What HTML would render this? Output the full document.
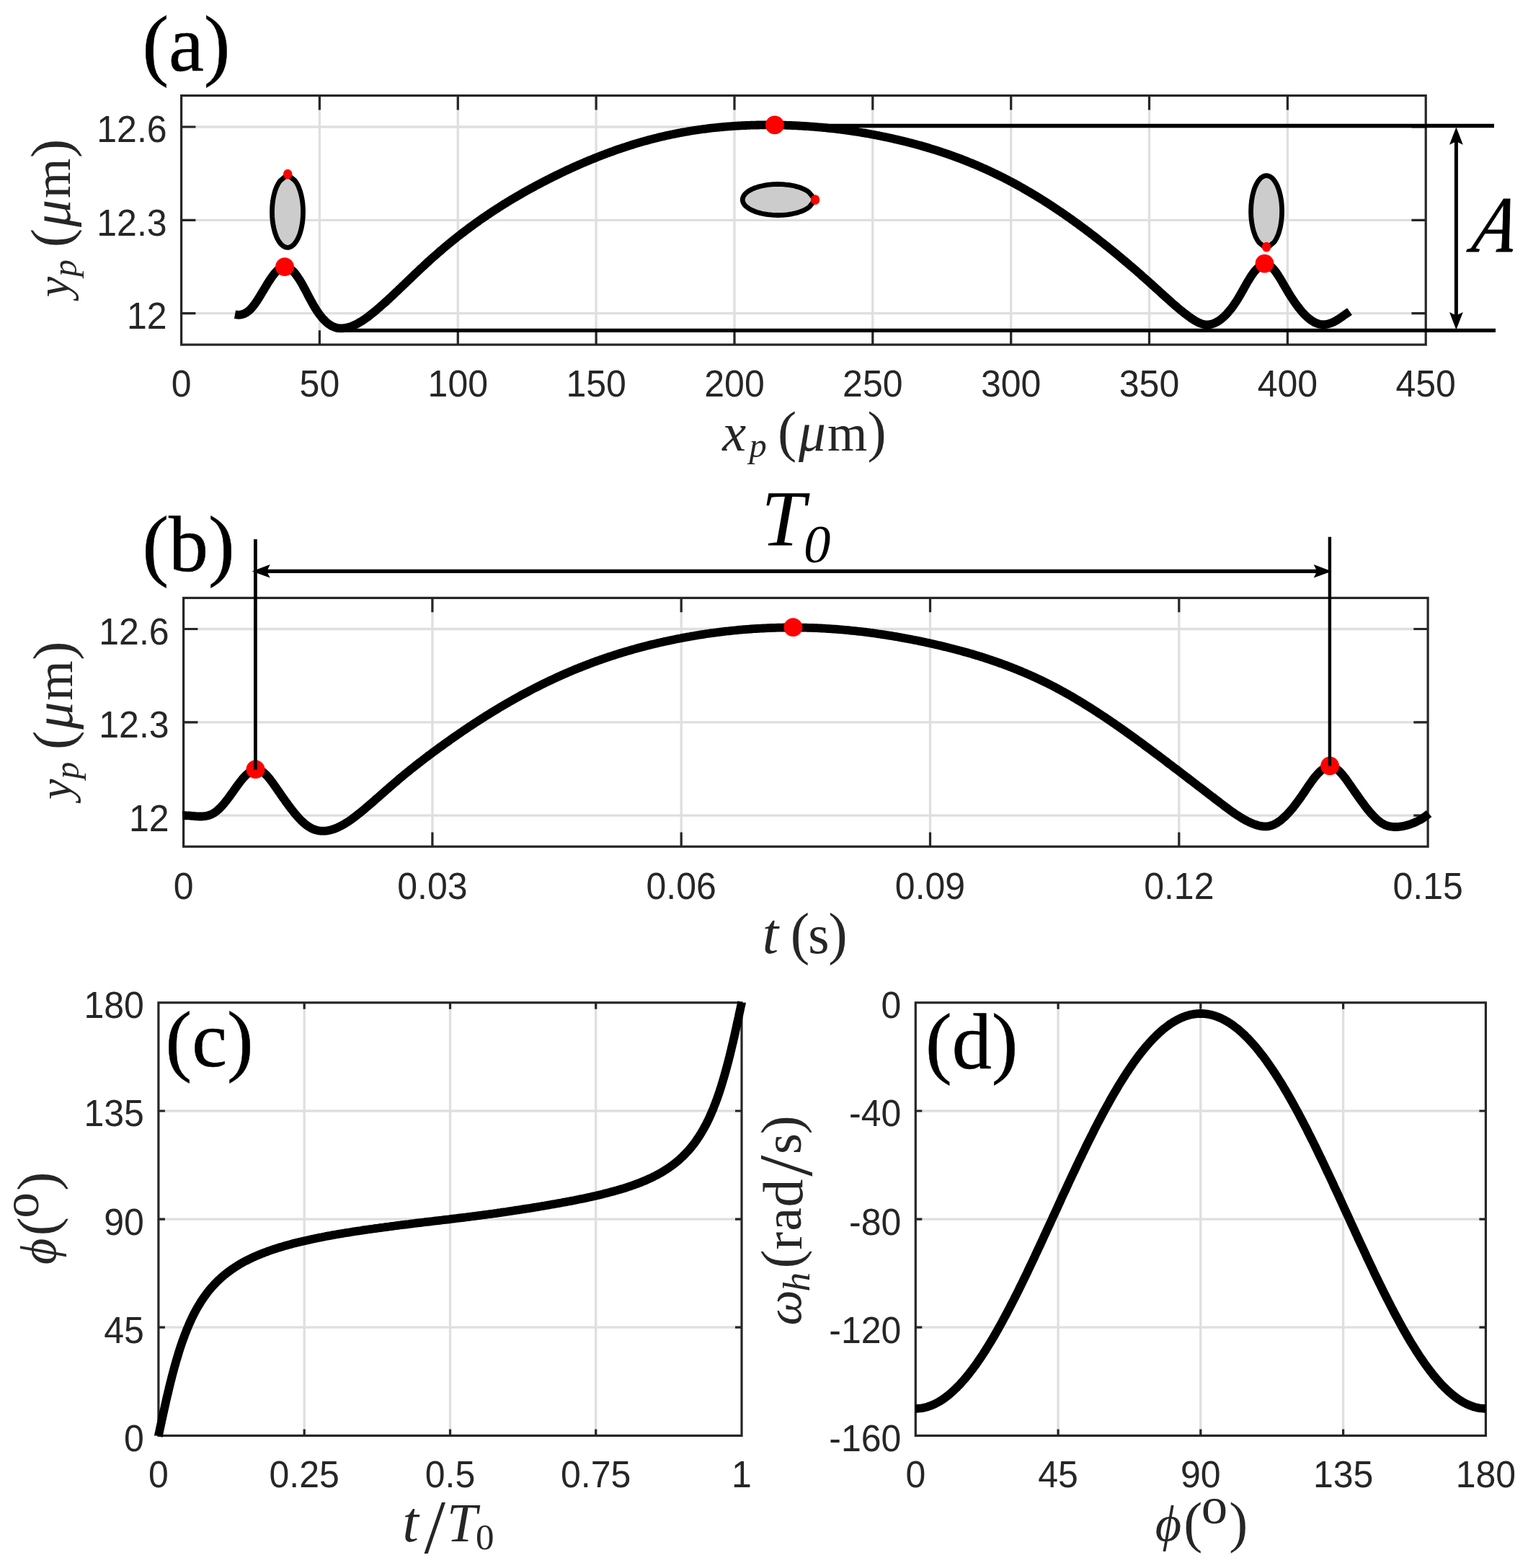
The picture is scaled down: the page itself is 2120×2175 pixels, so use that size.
<!DOCTYPE html>
<html lang="en"><head><meta charset="utf-8"><title>Particle trajectory figure</title>
<style>
html,body{margin:0;padding:0;background:#fff;}
body{width:2120px;height:2175px;overflow:hidden;}
svg{display:block;}
text{white-space:pre;}
</style></head>
<body>
<svg width="2120" height="2175" viewBox="0 0 2120 2175">
<rect x="0" y="0" width="2120" height="2175" fill="#fff"/>
<line x1="443.4" y1="132.6" x2="443.4" y2="478.1" stroke="#dfdfdf" stroke-width="3.3"/>
<line x1="635.3" y1="132.6" x2="635.3" y2="478.1" stroke="#dfdfdf" stroke-width="3.3"/>
<line x1="827.1" y1="132.6" x2="827.1" y2="478.1" stroke="#dfdfdf" stroke-width="3.3"/>
<line x1="1019.0" y1="132.6" x2="1019.0" y2="478.1" stroke="#dfdfdf" stroke-width="3.3"/>
<line x1="1210.8" y1="132.6" x2="1210.8" y2="478.1" stroke="#dfdfdf" stroke-width="3.3"/>
<line x1="1402.7" y1="132.6" x2="1402.7" y2="478.1" stroke="#dfdfdf" stroke-width="3.3"/>
<line x1="1594.5" y1="132.6" x2="1594.5" y2="478.1" stroke="#dfdfdf" stroke-width="3.3"/>
<line x1="1786.4" y1="132.6" x2="1786.4" y2="478.1" stroke="#dfdfdf" stroke-width="3.3"/>
<line x1="251.6" y1="176.0" x2="1978.2" y2="176.0" stroke="#dfdfdf" stroke-width="3.3"/>
<line x1="251.6" y1="305.3" x2="1978.2" y2="305.3" stroke="#dfdfdf" stroke-width="3.3"/>
<line x1="251.6" y1="434.6" x2="1978.2" y2="434.6" stroke="#dfdfdf" stroke-width="3.3"/>
<line x1="599.9" y1="829.4" x2="599.9" y2="1174.3" stroke="#dfdfdf" stroke-width="3.3"/>
<line x1="945.2" y1="829.4" x2="945.2" y2="1174.3" stroke="#dfdfdf" stroke-width="3.3"/>
<line x1="1290.5" y1="829.4" x2="1290.5" y2="1174.3" stroke="#dfdfdf" stroke-width="3.3"/>
<line x1="1635.8" y1="829.4" x2="1635.8" y2="1174.3" stroke="#dfdfdf" stroke-width="3.3"/>
<line x1="254.6" y1="872.5" x2="1981.1" y2="872.5" stroke="#dfdfdf" stroke-width="3.3"/>
<line x1="254.6" y1="1001.8" x2="1981.1" y2="1001.8" stroke="#dfdfdf" stroke-width="3.3"/>
<line x1="254.6" y1="1131.1" x2="1981.1" y2="1131.1" stroke="#dfdfdf" stroke-width="3.3"/>
<line x1="422.2" y1="1390.8" x2="422.2" y2="1991.4" stroke="#dfdfdf" stroke-width="3.3"/>
<line x1="624.5" y1="1390.8" x2="624.5" y2="1991.4" stroke="#dfdfdf" stroke-width="3.3"/>
<line x1="826.7" y1="1390.8" x2="826.7" y2="1991.4" stroke="#dfdfdf" stroke-width="3.3"/>
<line x1="219.9" y1="1541.0" x2="1029.0" y2="1541.0" stroke="#dfdfdf" stroke-width="3.3"/>
<line x1="219.9" y1="1691.1" x2="1029.0" y2="1691.1" stroke="#dfdfdf" stroke-width="3.3"/>
<line x1="219.9" y1="1841.2" x2="1029.0" y2="1841.2" stroke="#dfdfdf" stroke-width="3.3"/>
<line x1="1468.1" y1="1390.8" x2="1468.1" y2="1991.4" stroke="#dfdfdf" stroke-width="3.3"/>
<line x1="1665.8" y1="1390.8" x2="1665.8" y2="1991.4" stroke="#dfdfdf" stroke-width="3.3"/>
<line x1="1863.6" y1="1390.8" x2="1863.6" y2="1991.4" stroke="#dfdfdf" stroke-width="3.3"/>
<line x1="1270.3" y1="1541.0" x2="2061.4" y2="1541.0" stroke="#dfdfdf" stroke-width="3.3"/>
<line x1="1270.3" y1="1691.1" x2="2061.4" y2="1691.1" stroke="#dfdfdf" stroke-width="3.3"/>
<line x1="1270.3" y1="1841.2" x2="2061.4" y2="1841.2" stroke="#dfdfdf" stroke-width="3.3"/>
<path d="M443.4,478.1 v-19.8 M443.4,132.6 v19.8 M635.3,478.1 v-19.8 M635.3,132.6 v19.8 M827.1,478.1 v-19.8 M827.1,132.6 v19.8 M1019.0,478.1 v-19.8 M1019.0,132.6 v19.8 M1210.8,478.1 v-19.8 M1210.8,132.6 v19.8 M1402.7,478.1 v-19.8 M1402.7,132.6 v19.8 M1594.5,478.1 v-19.8 M1594.5,132.6 v19.8 M1786.4,478.1 v-19.8 M1786.4,132.6 v19.8 M251.6,176.0 h19.8 M1978.2,176.0 h-19.8 M251.6,305.3 h19.8 M1978.2,305.3 h-19.8 M251.6,434.6 h19.8 M1978.2,434.6 h-19.8" stroke="#262626" stroke-width="3.2" fill="none"/>
<rect x="251.6" y="132.6" width="1726.6" height="345.5" fill="none" stroke="#262626" stroke-width="3.2"/>
<path d="M599.9,1174.3 v-19.8 M599.9,829.4 v19.8 M945.2,1174.3 v-19.8 M945.2,829.4 v19.8 M1290.5,1174.3 v-19.8 M1290.5,829.4 v19.8 M1635.8,1174.3 v-19.8 M1635.8,829.4 v19.8 M254.6,872.5 h19.8 M1981.1,872.5 h-19.8 M254.6,1001.8 h19.8 M1981.1,1001.8 h-19.8 M254.6,1131.1 h19.8 M1981.1,1131.1 h-19.8" stroke="#262626" stroke-width="3.2" fill="none"/>
<rect x="254.6" y="829.4" width="1726.5" height="344.9" fill="none" stroke="#262626" stroke-width="3.2"/>
<path d="M422.2,1991.4 v-9 M422.2,1390.8 v9 M624.5,1991.4 v-9 M624.5,1390.8 v9 M826.7,1991.4 v-9 M826.7,1390.8 v9 M219.9,1541.0 h9 M1029.0,1541.0 h-9 M219.9,1691.1 h9 M1029.0,1691.1 h-9 M219.9,1841.2 h9 M1029.0,1841.2 h-9" stroke="#262626" stroke-width="3.2" fill="none"/>
<rect x="219.9" y="1390.8" width="809.1" height="600.6" fill="none" stroke="#262626" stroke-width="3.2"/>
<path d="M1468.1,1991.4 v-9 M1468.1,1390.8 v9 M1665.8,1991.4 v-9 M1665.8,1390.8 v9 M1863.6,1991.4 v-9 M1863.6,1390.8 v9 M1270.3,1541.0 h9 M2061.4,1541.0 h-9 M1270.3,1691.1 h9 M2061.4,1691.1 h-9 M1270.3,1841.2 h9 M2061.4,1841.2 h-9" stroke="#262626" stroke-width="3.2" fill="none"/>
<rect x="1270.3" y="1390.8" width="791.1" height="600.6" fill="none" stroke="#262626" stroke-width="3.2"/>
<path d="M326.0,436.2 L327.7,436.5 L329.4,436.7 L331.2,436.8 L332.9,436.7 L334.6,436.4 L336.3,436.0 L338.0,435.4 L339.8,434.7 L341.5,433.7 L343.2,432.6 L344.9,431.3 L346.6,429.8 L348.4,428.0 L350.1,426.1 L351.8,424.0 L353.5,421.7 L355.2,419.2 L357.0,416.7 L358.7,414.0 L360.4,411.2 L362.1,408.4 L363.8,405.5 L365.6,402.6 L367.3,399.8 L369.0,396.9 L370.7,394.1 L372.4,391.3 L374.2,388.7 L375.9,386.1 L377.6,383.7 L379.3,381.4 L381.0,379.2 L382.8,377.3 L384.5,375.5 L386.2,374.0 L387.9,372.7 L389.6,371.6 L391.4,370.8 L393.1,370.4 L394.8,370.2 L396.5,370.3 L398.3,370.7 L400.0,371.4 L401.7,372.3 L403.4,373.4 L405.1,374.9 L406.9,376.5 L408.6,378.4 L410.3,380.4 L412.0,382.7 L413.7,385.2 L415.5,387.9 L417.2,390.7 L418.9,393.7 L420.6,396.7 L422.3,399.9 L424.1,403.1 L425.8,406.4 L427.5,409.7 L429.2,412.9 L430.9,416.1 L432.7,419.3 L434.4,422.4 L436.1,425.3 L437.8,428.1 L439.5,430.8 L441.3,433.4 L443.0,435.8 L444.7,438.0 L446.4,440.2 L448.1,442.2 L449.9,444.0 L451.6,445.7 L453.3,447.3 L455.0,448.7 L456.7,449.9 L458.5,451.1 L460.2,452.1 L461.9,452.9 L463.6,453.6 L465.3,454.2 L467.1,454.7 L468.8,455.0 L470.5,455.3 L472.2,455.4 L473.9,455.4 L475.7,455.4 L477.4,455.2 L479.1,455.0 L480.8,454.6 L482.5,454.2 L484.3,453.8 L486.0,453.2 L487.7,452.6 L489.4,452.0 L491.1,451.2 L492.9,450.4 L494.6,449.6 L496.3,448.7 L498.0,447.7 L499.7,446.7 L501.5,445.7 L503.2,444.6 L504.9,443.4 L506.6,442.2 L508.3,441.0 L510.1,439.8 L511.8,438.5 L513.5,437.1 L515.2,435.8 L516.9,434.4 L518.7,433.0 L520.4,431.6 L522.1,430.2 L523.8,428.7 L525.5,427.2 L527.3,425.7 L529.0,424.2 L530.7,422.7 L532.4,421.2 L534.1,419.6 L535.9,418.1 L537.6,416.5 L539.3,414.9 L541.0,413.3 L542.8,411.7 L544.5,410.1 L546.2,408.5 L547.9,406.9 L549.6,405.2 L551.4,403.6 L553.1,401.9 L554.8,400.3 L556.5,398.7 L558.2,397.0 L560.0,395.4 L561.7,393.7 L563.4,392.1 L565.1,390.4 L566.8,388.8 L568.6,387.1 L570.3,385.5 L572.0,383.8 L573.7,382.2 L575.4,380.5 L577.2,378.9 L578.9,377.3 L580.6,375.7 L582.3,374.0 L584.0,372.4 L585.8,370.8 L587.5,369.2 L589.2,367.6 L590.9,366.0 L592.6,364.4 L594.4,362.9 L596.1,361.3 L597.8,359.7 L599.5,358.2 L601.2,356.7 L603.0,355.1 L604.7,353.6 L606.4,352.1 L608.1,350.6 L609.8,349.1 L611.6,347.6 L613.3,346.2 L615.0,344.7 L616.7,343.2 L618.4,341.8 L620.2,340.4 L621.9,338.9 L623.6,337.5 L625.3,336.1 L627.0,334.7 L628.8,333.3 L630.5,331.9 L632.2,330.6 L633.9,329.2 L635.6,327.8 L637.4,326.5 L639.1,325.1 L640.8,323.8 L642.5,322.5 L644.2,321.2 L646.0,319.9 L647.7,318.6 L649.4,317.3 L651.1,316.0 L652.8,314.7 L654.6,313.5 L656.3,312.2 L658.0,311.0 L659.7,309.7 L661.4,308.5 L663.2,307.3 L664.9,306.0 L666.6,304.8 L668.3,303.6 L670.0,302.4 L671.8,301.3 L673.5,300.1 L675.2,298.9 L676.9,297.7 L678.7,296.6 L680.4,295.4 L682.1,294.3 L683.8,293.1 L685.5,292.0 L687.3,290.9 L689.0,289.8 L690.7,288.7 L692.4,287.6 L694.1,286.5 L695.9,285.4 L697.6,284.3 L699.3,283.2 L701.0,282.2 L702.7,281.1 L704.5,280.0 L706.2,279.0 L707.9,277.9 L709.6,276.9 L711.3,275.9 L713.1,274.9 L714.8,273.8 L716.5,272.8 L718.2,271.8 L719.9,270.8 L721.7,269.8 L723.4,268.8 L725.1,267.8 L726.8,266.9 L728.5,265.9 L730.3,264.9 L732.0,264.0 L733.7,263.0 L735.4,262.1 L737.1,261.1 L738.9,260.2 L740.6,259.3 L742.3,258.3 L744.0,257.4 L745.7,256.5 L747.5,255.6 L749.2,254.7 L750.9,253.8 L752.6,252.9 L754.3,252.0 L756.1,251.1 L757.8,250.2 L759.5,249.3 L761.2,248.5 L762.9,247.6 L764.7,246.7 L766.4,245.9 L768.1,245.0 L769.8,244.2 L771.5,243.3 L773.3,242.5 L775.0,241.6 L776.7,240.8 L778.4,240.0 L780.1,239.1 L781.9,238.3 L783.6,237.5 L785.3,236.7 L787.0,235.9 L788.7,235.1 L790.5,234.3 L792.2,233.5 L793.9,232.7 L795.6,232.0 L797.3,231.2 L799.1,230.4 L800.8,229.7 L802.5,228.9 L804.2,228.1 L805.9,227.4 L807.7,226.6 L809.4,225.9 L811.1,225.2 L812.8,224.4 L814.5,223.7 L816.3,223.0 L818.0,222.3 L819.7,221.6 L821.4,220.9 L823.2,220.2 L824.9,219.5 L826.6,218.8 L828.3,218.1 L830.0,217.4 L831.8,216.7 L833.5,216.1 L835.2,215.4 L836.9,214.8 L838.6,214.1 L840.4,213.4 L842.1,212.8 L843.8,212.2 L845.5,211.5 L847.2,210.9 L849.0,210.3 L850.7,209.7 L852.4,209.0 L854.1,208.4 L855.8,207.8 L857.6,207.2 L859.3,206.6 L861.0,206.1 L862.7,205.5 L864.4,204.9 L866.2,204.3 L867.9,203.8 L869.6,203.2 L871.3,202.6 L873.0,202.1 L874.8,201.5 L876.5,201.0 L878.2,200.5 L879.9,199.9 L881.6,199.4 L883.4,198.9 L885.1,198.4 L886.8,197.9 L888.5,197.4 L890.2,196.9 L892.0,196.4 L893.7,195.9 L895.4,195.4 L897.1,195.0 L898.8,194.5 L900.6,194.0 L902.3,193.6 L904.0,193.1 L905.7,192.7 L907.4,192.2 L909.2,191.8 L910.9,191.4 L912.6,190.9 L914.3,190.5 L916.0,190.1 L917.8,189.7 L919.5,189.3 L921.2,188.9 L922.9,188.5 L924.6,188.1 L926.4,187.7 L928.1,187.4 L929.8,187.0 L931.5,186.6 L933.2,186.3 L935.0,185.9 L936.7,185.6 L938.4,185.2 L940.1,184.9 L941.8,184.5 L943.6,184.2 L945.3,183.9 L947.0,183.6 L948.7,183.3 L950.4,183.0 L952.2,182.7 L953.9,182.4 L955.6,182.1 L957.3,181.8 L959.1,181.5 L960.8,181.2 L962.5,181.0 L964.2,180.7 L965.9,180.5 L967.7,180.2 L969.4,180.0 L971.1,179.7 L972.8,179.5 L974.5,179.2 L976.3,179.0 L978.0,178.8 L979.7,178.6 L981.4,178.3 L983.1,178.1 L984.9,177.9 L986.6,177.7 L988.3,177.5 L990.0,177.3 L991.7,177.2 L993.5,177.0 L995.2,176.8 L996.9,176.6 L998.6,176.5 L1000.3,176.3 L1002.1,176.1 L1003.8,176.0 L1005.5,175.8 L1007.2,175.7 L1008.9,175.6 L1010.7,175.4 L1012.4,175.3 L1014.1,175.2 L1015.8,175.0 L1017.5,174.9 L1019.3,174.8 L1021.0,174.7 L1022.7,174.6 L1024.4,174.5 L1026.1,174.4 L1027.9,174.3 L1029.6,174.2 L1031.3,174.1 L1033.0,174.1 L1034.7,174.0 L1036.5,173.9 L1038.2,173.9 L1039.9,173.8 L1041.6,173.7 L1043.3,173.7 L1045.1,173.6 L1046.8,173.6 L1048.5,173.6 L1050.2,173.5 L1051.9,173.5 L1053.7,173.4 L1055.4,173.4 L1057.1,173.4 L1058.8,173.4 L1060.5,173.4 L1062.3,173.4 L1064.0,173.4 L1065.7,173.4 L1067.4,173.4 L1069.1,173.4 L1070.9,173.4 L1072.6,173.4 L1074.3,173.4 L1076.0,173.4 L1077.7,173.4 L1079.5,173.5 L1081.2,173.5 L1082.9,173.5 L1084.6,173.6 L1086.3,173.6 L1088.1,173.7 L1089.8,173.7 L1091.5,173.8 L1093.2,173.8 L1094.9,173.9 L1096.7,173.9 L1098.4,174.0 L1100.1,174.1 L1101.8,174.2 L1103.6,174.2 L1105.3,174.3 L1107.0,174.4 L1108.7,174.5 L1110.4,174.6 L1112.2,174.7 L1113.9,174.8 L1115.6,174.9 L1117.3,175.0 L1119.0,175.1 L1120.8,175.2 L1122.5,175.3 L1124.2,175.5 L1125.9,175.6 L1127.6,175.7 L1129.4,175.8 L1131.1,176.0 L1132.8,176.1 L1134.5,176.3 L1136.2,176.4 L1138.0,176.6 L1139.7,176.7 L1141.4,176.9 L1143.1,177.1 L1144.8,177.2 L1146.6,177.4 L1148.3,177.6 L1150.0,177.8 L1151.7,177.9 L1153.4,178.1 L1155.2,178.3 L1156.9,178.5 L1158.6,178.7 L1160.3,178.9 L1162.0,179.1 L1163.8,179.3 L1165.5,179.5 L1167.2,179.8 L1168.9,180.0 L1170.6,180.2 L1172.4,180.4 L1174.1,180.7 L1175.8,180.9 L1177.5,181.1 L1179.2,181.4 L1181.0,181.6 L1182.7,181.9 L1184.4,182.1 L1186.1,182.4 L1187.8,182.7 L1189.6,182.9 L1191.3,183.2 L1193.0,183.5 L1194.7,183.8 L1196.4,184.1 L1198.2,184.3 L1199.9,184.6 L1201.6,184.9 L1203.3,185.2 L1205.0,185.5 L1206.8,185.8 L1208.5,186.2 L1210.2,186.5 L1211.9,186.8 L1213.6,187.1 L1215.4,187.5 L1217.1,187.8 L1218.8,188.1 L1220.5,188.5 L1222.2,188.8 L1224.0,189.2 L1225.7,189.5 L1227.4,189.9 L1229.1,190.2 L1230.8,190.6 L1232.6,191.0 L1234.3,191.3 L1236.0,191.7 L1237.7,192.1 L1239.4,192.5 L1241.2,192.9 L1242.9,193.3 L1244.6,193.7 L1246.3,194.1 L1248.1,194.5 L1249.8,194.9 L1251.5,195.3 L1253.2,195.7 L1254.9,196.1 L1256.7,196.6 L1258.4,197.0 L1260.1,197.4 L1261.8,197.9 L1263.5,198.3 L1265.3,198.8 L1267.0,199.2 L1268.7,199.7 L1270.4,200.1 L1272.1,200.6 L1273.9,201.1 L1275.6,201.6 L1277.3,202.0 L1279.0,202.5 L1280.7,203.0 L1282.5,203.5 L1284.2,204.0 L1285.9,204.5 L1287.6,205.0 L1289.3,205.5 L1291.1,206.1 L1292.8,206.6 L1294.5,207.1 L1296.2,207.7 L1297.9,208.2 L1299.7,208.7 L1301.4,209.3 L1303.1,209.9 L1304.8,210.4 L1306.5,211.0 L1308.3,211.6 L1310.0,212.1 L1311.7,212.7 L1313.4,213.3 L1315.1,213.9 L1316.9,214.5 L1318.6,215.1 L1320.3,215.7 L1322.0,216.3 L1323.7,217.0 L1325.5,217.6 L1327.2,218.2 L1328.9,218.9 L1330.6,219.5 L1332.3,220.1 L1334.1,220.8 L1335.8,221.5 L1337.5,222.1 L1339.2,222.8 L1340.9,223.5 L1342.7,224.2 L1344.4,224.9 L1346.1,225.6 L1347.8,226.3 L1349.5,227.0 L1351.3,227.7 L1353.0,228.4 L1354.7,229.1 L1356.4,229.9 L1358.1,230.6 L1359.9,231.3 L1361.6,232.1 L1363.3,232.9 L1365.0,233.6 L1366.7,234.4 L1368.5,235.2 L1370.2,236.0 L1371.9,236.7 L1373.6,237.5 L1375.3,238.3 L1377.1,239.2 L1378.8,240.0 L1380.5,240.8 L1382.2,241.6 L1384.0,242.5 L1385.7,243.3 L1387.4,244.1 L1389.1,245.0 L1390.8,245.9 L1392.6,246.7 L1394.3,247.6 L1396.0,248.5 L1397.7,249.4 L1399.4,250.3 L1401.2,251.2 L1402.9,252.1 L1404.6,253.0 L1406.3,253.9 L1408.0,254.9 L1409.8,255.8 L1411.5,256.8 L1413.2,257.7 L1414.9,258.7 L1416.6,259.6 L1418.4,260.6 L1420.1,261.6 L1421.8,262.6 L1423.5,263.6 L1425.2,264.6 L1427.0,265.6 L1428.7,266.6 L1430.4,267.6 L1432.1,268.6 L1433.8,269.6 L1435.6,270.7 L1437.3,271.7 L1439.0,272.8 L1440.7,273.8 L1442.4,274.9 L1444.2,276.0 L1445.9,277.0 L1447.6,278.1 L1449.3,279.2 L1451.0,280.3 L1452.8,281.4 L1454.5,282.5 L1456.2,283.6 L1457.9,284.8 L1459.6,285.9 L1461.4,287.0 L1463.1,288.2 L1464.8,289.3 L1466.5,290.5 L1468.2,291.6 L1470.0,292.8 L1471.7,293.9 L1473.4,295.1 L1475.1,296.3 L1476.8,297.5 L1478.6,298.7 L1480.3,299.9 L1482.0,301.1 L1483.7,302.3 L1485.4,303.5 L1487.2,304.7 L1488.9,306.0 L1490.6,307.2 L1492.3,308.4 L1494.0,309.7 L1495.8,310.9 L1497.5,312.2 L1499.2,313.5 L1500.9,314.7 L1502.6,316.0 L1504.4,317.3 L1506.1,318.6 L1507.8,319.9 L1509.5,321.1 L1511.2,322.4 L1513.0,323.8 L1514.7,325.1 L1516.4,326.4 L1518.1,327.7 L1519.8,329.0 L1521.6,330.4 L1523.3,331.7 L1525.0,333.1 L1526.7,334.4 L1528.5,335.8 L1530.2,337.1 L1531.9,338.5 L1533.6,339.9 L1535.3,341.2 L1537.1,342.6 L1538.8,344.0 L1540.5,345.4 L1542.2,346.8 L1543.9,348.2 L1545.7,349.6 L1547.4,351.0 L1549.1,352.4 L1550.8,353.8 L1552.5,355.3 L1554.3,356.7 L1556.0,358.1 L1557.7,359.6 L1559.4,361.0 L1561.1,362.5 L1562.9,363.9 L1564.6,365.4 L1566.3,366.8 L1568.0,368.3 L1569.7,369.8 L1571.5,371.3 L1573.2,372.7 L1574.9,374.2 L1576.6,375.7 L1578.3,377.2 L1580.1,378.7 L1581.8,380.2 L1583.5,381.7 L1585.2,383.3 L1586.9,384.8 L1588.7,386.3 L1590.4,387.8 L1592.1,389.3 L1593.8,390.9 L1595.5,392.4 L1597.3,394.0 L1599.0,395.5 L1600.7,397.1 L1602.4,398.6 L1604.1,400.2 L1605.9,401.7 L1607.6,403.3 L1609.3,404.9 L1611.0,406.4 L1612.7,408.0 L1614.5,409.6 L1616.2,411.1 L1617.9,412.7 L1619.6,414.2 L1621.3,415.8 L1623.1,417.3 L1624.8,418.9 L1626.5,420.4 L1628.2,421.9 L1629.9,423.4 L1631.7,424.9 L1633.4,426.3 L1635.1,427.8 L1636.8,429.2 L1638.5,430.6 L1640.3,432.0 L1642.0,433.4 L1643.7,434.7 L1645.4,436.0 L1647.1,437.3 L1648.9,438.6 L1650.6,439.9 L1652.3,441.1 L1654.0,442.3 L1655.7,443.4 L1657.5,444.5 L1659.2,445.5 L1660.9,446.4 L1662.6,447.3 L1664.4,448.0 L1666.1,448.7 L1667.8,449.3 L1669.5,449.8 L1671.2,450.1 L1673.0,450.3 L1674.7,450.4 L1676.4,450.3 L1678.1,450.2 L1679.8,449.9 L1681.6,449.4 L1683.3,448.9 L1685.0,448.2 L1686.7,447.4 L1688.4,446.5 L1690.2,445.5 L1691.9,444.4 L1693.6,443.1 L1695.3,441.7 L1697.0,440.3 L1698.8,438.7 L1700.5,437.0 L1702.2,435.2 L1703.9,433.3 L1705.6,431.3 L1707.4,429.2 L1709.1,427.0 L1710.8,424.6 L1712.5,422.2 L1714.2,419.6 L1716.0,417.0 L1717.7,414.2 L1719.4,411.3 L1721.1,408.4 L1722.8,405.4 L1724.6,402.3 L1726.3,399.2 L1728.0,396.2 L1729.7,393.2 L1731.4,390.2 L1733.2,387.4 L1734.9,384.6 L1736.6,382.0 L1738.3,379.5 L1740.0,377.2 L1741.8,375.1 L1743.5,373.2 L1745.2,371.6 L1746.9,370.1 L1748.6,368.9 L1750.4,368.0 L1752.1,367.3 L1753.8,366.9 L1755.5,366.7 L1757.2,366.9 L1759.0,367.3 L1760.7,368.0 L1762.4,369.1 L1764.1,370.4 L1765.8,372.1 L1767.6,374.0 L1769.3,376.1 L1771.0,378.5 L1772.7,381.0 L1774.4,383.7 L1776.2,386.4 L1777.9,389.3 L1779.6,392.3 L1781.3,395.2 L1783.0,398.2 L1784.8,401.1 L1786.5,404.0 L1788.2,406.9 L1789.9,409.6 L1791.6,412.3 L1793.4,415.0 L1795.1,417.5 L1796.8,420.0 L1798.5,422.4 L1800.2,424.7 L1802.0,427.0 L1803.7,429.1 L1805.4,431.2 L1807.1,433.2 L1808.9,435.1 L1810.6,436.9 L1812.3,438.6 L1814.0,440.1 L1815.7,441.6 L1817.5,443.0 L1819.2,444.3 L1820.9,445.4 L1822.6,446.4 L1824.3,447.4 L1826.1,448.1 L1827.8,448.8 L1829.5,449.3 L1831.2,449.7 L1832.9,450.0 L1834.7,450.2 L1836.4,450.2 L1838.1,450.1 L1839.8,449.9 L1841.5,449.6 L1843.3,449.2 L1845.0,448.7 L1846.7,448.1 L1848.4,447.4 L1850.1,446.6 L1851.9,445.7 L1853.6,444.8 L1855.3,443.8 L1857.0,442.7 L1858.7,441.6 L1860.5,440.4 L1862.2,439.2 L1863.9,438.0 L1865.6,436.8 L1867.3,435.6 L1869.1,434.4 L1870.8,433.2 L1872.5,432.0" fill="none" stroke="#000" stroke-width="11.8" stroke-linejoin="round" stroke-linecap="butt"/>
<path d="M253.0,1131.4 L254.9,1131.3 L256.8,1131.2 L258.8,1131.3 L260.7,1131.3 L262.6,1131.4 L264.5,1131.6 L266.5,1131.8 L268.4,1131.9 L270.3,1132.1 L272.2,1132.3 L274.2,1132.4 L276.1,1132.5 L278.0,1132.5 L279.9,1132.5 L281.9,1132.4 L283.8,1132.2 L285.7,1132.0 L287.6,1131.6 L289.6,1131.0 L291.5,1130.4 L293.4,1129.6 L295.3,1128.6 L297.2,1127.4 L299.2,1126.1 L301.1,1124.6 L303.0,1122.9 L304.9,1121.1 L306.9,1119.1 L308.8,1117.0 L310.7,1114.8 L312.6,1112.5 L314.6,1110.0 L316.5,1107.5 L318.4,1104.9 L320.3,1102.3 L322.3,1099.6 L324.2,1096.9 L326.1,1094.2 L328.0,1091.5 L330.0,1088.8 L331.9,1086.3 L333.8,1083.8 L335.7,1081.4 L337.6,1079.1 L339.6,1077.0 L341.5,1075.1 L343.4,1073.4 L345.3,1071.9 L347.3,1070.6 L349.2,1069.5 L351.1,1068.6 L353.0,1068.1 L355.0,1067.8 L356.9,1067.7 L358.8,1068.0 L360.7,1068.6 L362.7,1069.5 L364.6,1070.7 L366.5,1072.2 L368.4,1074.0 L370.4,1076.0 L372.3,1078.1 L374.2,1080.5 L376.1,1083.0 L378.0,1085.6 L380.0,1088.3 L381.9,1091.0 L383.8,1093.8 L385.7,1096.5 L387.7,1099.3 L389.6,1102.1 L391.5,1104.8 L393.4,1107.6 L395.4,1110.3 L397.3,1113.0 L399.2,1115.6 L401.1,1118.2 L403.1,1120.8 L405.0,1123.3 L406.9,1125.7 L408.8,1128.1 L410.8,1130.4 L412.7,1132.6 L414.6,1134.7 L416.5,1136.7 L418.4,1138.7 L420.4,1140.5 L422.3,1142.2 L424.2,1143.8 L426.1,1145.2 L428.1,1146.5 L430.0,1147.7 L431.9,1148.8 L433.8,1149.7 L435.8,1150.5 L437.7,1151.1 L439.6,1151.7 L441.5,1152.1 L443.5,1152.4 L445.4,1152.6 L447.3,1152.7 L449.2,1152.7 L451.2,1152.6 L453.1,1152.4 L455.0,1152.1 L456.9,1151.7 L458.8,1151.3 L460.8,1150.7 L462.7,1150.1 L464.6,1149.4 L466.5,1148.7 L468.5,1147.8 L470.4,1146.9 L472.3,1146.0 L474.2,1145.0 L476.2,1143.9 L478.1,1142.8 L480.0,1141.6 L481.9,1140.4 L483.9,1139.1 L485.8,1137.8 L487.7,1136.5 L489.6,1135.1 L491.6,1133.7 L493.5,1132.2 L495.4,1130.7 L497.3,1129.2 L499.2,1127.7 L501.2,1126.1 L503.1,1124.5 L505.0,1122.9 L506.9,1121.3 L508.9,1119.6 L510.8,1118.0 L512.7,1116.3 L514.6,1114.7 L516.6,1113.0 L518.5,1111.3 L520.4,1109.6 L522.3,1108.0 L524.3,1106.3 L526.2,1104.6 L528.1,1102.9 L530.0,1101.2 L532.0,1099.5 L533.9,1097.8 L535.8,1096.1 L537.7,1094.5 L539.6,1092.8 L541.6,1091.1 L543.5,1089.4 L545.4,1087.8 L547.3,1086.1 L549.3,1084.5 L551.2,1082.8 L553.1,1081.2 L555.0,1079.5 L557.0,1077.9 L558.9,1076.3 L560.8,1074.7 L562.7,1073.1 L564.7,1071.6 L566.6,1070.0 L568.5,1068.4 L570.4,1066.9 L572.4,1065.4 L574.3,1063.8 L576.2,1062.3 L578.1,1060.8 L580.0,1059.3 L582.0,1057.8 L583.9,1056.3 L585.8,1054.8 L587.7,1053.4 L589.7,1051.9 L591.6,1050.4 L593.5,1049.0 L595.4,1047.5 L597.4,1046.1 L599.3,1044.7 L601.2,1043.2 L603.1,1041.8 L605.1,1040.4 L607.0,1039.0 L608.9,1037.6 L610.8,1036.2 L612.8,1034.8 L614.7,1033.4 L616.6,1032.0 L618.5,1030.6 L620.4,1029.3 L622.4,1027.9 L624.3,1026.5 L626.2,1025.2 L628.1,1023.8 L630.1,1022.5 L632.0,1021.1 L633.9,1019.8 L635.8,1018.5 L637.8,1017.1 L639.7,1015.8 L641.6,1014.5 L643.5,1013.2 L645.5,1011.9 L647.4,1010.6 L649.3,1009.3 L651.2,1008.1 L653.2,1006.8 L655.1,1005.5 L657.0,1004.2 L658.9,1003.0 L660.8,1001.7 L662.8,1000.5 L664.7,999.2 L666.6,998.0 L668.5,996.8 L670.5,995.6 L672.4,994.3 L674.3,993.1 L676.2,991.9 L678.2,990.7 L680.1,989.5 L682.0,988.3 L683.9,987.2 L685.9,986.0 L687.8,984.8 L689.7,983.7 L691.6,982.5 L693.6,981.3 L695.5,980.2 L697.4,979.1 L699.3,977.9 L701.2,976.8 L703.2,975.7 L705.1,974.6 L707.0,973.5 L708.9,972.4 L710.9,971.3 L712.8,970.2 L714.7,969.1 L716.6,968.0 L718.6,967.0 L720.5,965.9 L722.4,964.8 L724.3,963.8 L726.3,962.8 L728.2,961.7 L730.1,960.7 L732.0,959.7 L734.0,958.7 L735.9,957.6 L737.8,956.6 L739.7,955.6 L741.6,954.6 L743.6,953.7 L745.5,952.7 L747.4,951.7 L749.3,950.8 L751.3,949.8 L753.2,948.8 L755.1,947.9 L757.0,947.0 L759.0,946.0 L760.9,945.1 L762.8,944.2 L764.7,943.3 L766.7,942.4 L768.6,941.5 L770.5,940.6 L772.4,939.7 L774.4,938.8 L776.3,938.0 L778.2,937.1 L780.1,936.2 L782.0,935.4 L784.0,934.5 L785.9,933.7 L787.8,932.9 L789.7,932.0 L791.7,931.2 L793.6,930.4 L795.5,929.6 L797.4,928.8 L799.4,928.0 L801.3,927.2 L803.2,926.5 L805.1,925.7 L807.1,924.9 L809.0,924.2 L810.9,923.4 L812.8,922.7 L814.8,921.9 L816.7,921.2 L818.6,920.5 L820.5,919.8 L822.4,919.0 L824.4,918.3 L826.3,917.6 L828.2,916.9 L830.1,916.2 L832.1,915.6 L834.0,914.9 L835.9,914.2 L837.8,913.5 L839.8,912.9 L841.7,912.2 L843.6,911.6 L845.5,910.9 L847.5,910.3 L849.4,909.7 L851.3,909.1 L853.2,908.4 L855.2,907.8 L857.1,907.2 L859.0,906.6 L860.9,906.0 L862.8,905.4 L864.8,904.8 L866.7,904.3 L868.6,903.7 L870.5,903.1 L872.5,902.6 L874.4,902.0 L876.3,901.5 L878.2,900.9 L880.2,900.4 L882.1,899.8 L884.0,899.3 L885.9,898.8 L887.9,898.3 L889.8,897.8 L891.7,897.2 L893.6,896.7 L895.6,896.2 L897.5,895.8 L899.4,895.3 L901.3,894.8 L903.2,894.3 L905.2,893.8 L907.1,893.4 L909.0,892.9 L910.9,892.5 L912.9,892.0 L914.8,891.6 L916.7,891.1 L918.6,890.7 L920.6,890.3 L922.5,889.8 L924.4,889.4 L926.3,889.0 L928.3,888.6 L930.2,888.2 L932.1,887.8 L934.0,887.4 L936.0,887.0 L937.9,886.6 L939.8,886.2 L941.7,885.8 L943.6,885.5 L945.6,885.1 L947.5,884.7 L949.4,884.4 L951.3,884.0 L953.3,883.7 L955.2,883.3 L957.1,883.0 L959.0,882.6 L961.0,882.3 L962.9,882.0 L964.8,881.7 L966.7,881.3 L968.7,881.0 L970.6,880.7 L972.5,880.4 L974.4,880.1 L976.4,879.8 L978.3,879.5 L980.2,879.2 L982.1,879.0 L984.0,878.7 L986.0,878.4 L987.9,878.1 L989.8,877.9 L991.7,877.6 L993.7,877.4 L995.6,877.1 L997.5,876.9 L999.4,876.6 L1001.4,876.4 L1003.3,876.2 L1005.2,875.9 L1007.1,875.7 L1009.1,875.5 L1011.0,875.3 L1012.9,875.1 L1014.8,874.9 L1016.8,874.7 L1018.7,874.5 L1020.6,874.3 L1022.5,874.1 L1024.4,873.9 L1026.4,873.7 L1028.3,873.6 L1030.2,873.4 L1032.1,873.2 L1034.1,873.1 L1036.0,872.9 L1037.9,872.8 L1039.8,872.6 L1041.8,872.5 L1043.7,872.4 L1045.6,872.2 L1047.5,872.1 L1049.5,872.0 L1051.4,871.9 L1053.3,871.8 L1055.2,871.7 L1057.2,871.6 L1059.1,871.5 L1061.0,871.4 L1062.9,871.3 L1064.8,871.2 L1066.8,871.1 L1068.7,871.0 L1070.6,871.0 L1072.5,870.9 L1074.5,870.8 L1076.4,870.8 L1078.3,870.7 L1080.2,870.7 L1082.2,870.6 L1084.1,870.6 L1086.0,870.6 L1087.9,870.5 L1089.9,870.5 L1091.8,870.5 L1093.7,870.5 L1095.6,870.5 L1097.6,870.5 L1099.5,870.5 L1101.4,870.5 L1103.3,870.5 L1105.2,870.5 L1107.2,870.5 L1109.1,870.5 L1111.0,870.6 L1112.9,870.6 L1114.9,870.6 L1116.8,870.7 L1118.7,870.7 L1120.6,870.8 L1122.6,870.8 L1124.5,870.9 L1126.4,870.9 L1128.3,871.0 L1130.3,871.1 L1132.2,871.2 L1134.1,871.2 L1136.0,871.3 L1137.9,871.4 L1139.9,871.5 L1141.8,871.6 L1143.7,871.7 L1145.6,871.8 L1147.6,872.0 L1149.5,872.1 L1151.4,872.2 L1153.3,872.3 L1155.3,872.5 L1157.2,872.6 L1159.1,872.7 L1161.0,872.9 L1163.0,873.0 L1164.9,873.2 L1166.8,873.3 L1168.7,873.5 L1170.7,873.7 L1172.6,873.8 L1174.5,874.0 L1176.4,874.2 L1178.3,874.4 L1180.3,874.6 L1182.2,874.8 L1184.1,875.0 L1186.0,875.2 L1188.0,875.4 L1189.9,875.6 L1191.8,875.8 L1193.7,876.0 L1195.7,876.2 L1197.6,876.5 L1199.5,876.7 L1201.4,876.9 L1203.4,877.2 L1205.3,877.4 L1207.2,877.7 L1209.1,877.9 L1211.1,878.2 L1213.0,878.5 L1214.9,878.7 L1216.8,879.0 L1218.7,879.3 L1220.7,879.5 L1222.6,879.8 L1224.5,880.1 L1226.4,880.4 L1228.4,880.7 L1230.3,881.0 L1232.2,881.3 L1234.1,881.6 L1236.1,881.9 L1238.0,882.2 L1239.9,882.6 L1241.8,882.9 L1243.8,883.2 L1245.7,883.5 L1247.6,883.9 L1249.5,884.2 L1251.5,884.6 L1253.4,884.9 L1255.3,885.3 L1257.2,885.6 L1259.1,886.0 L1261.1,886.3 L1263.0,886.7 L1264.9,887.1 L1266.8,887.5 L1268.8,887.8 L1270.7,888.2 L1272.6,888.6 L1274.5,889.0 L1276.5,889.4 L1278.4,889.8 L1280.3,890.2 L1282.2,890.6 L1284.2,891.0 L1286.1,891.4 L1288.0,891.8 L1289.9,892.3 L1291.9,892.7 L1293.8,893.1 L1295.7,893.6 L1297.6,894.0 L1299.5,894.4 L1301.5,894.9 L1303.4,895.3 L1305.3,895.8 L1307.2,896.2 L1309.2,896.7 L1311.1,897.2 L1313.0,897.6 L1314.9,898.1 L1316.9,898.6 L1318.8,899.1 L1320.7,899.6 L1322.6,900.1 L1324.6,900.6 L1326.5,901.1 L1328.4,901.6 L1330.3,902.1 L1332.3,902.6 L1334.2,903.1 L1336.1,903.7 L1338.0,904.2 L1339.9,904.7 L1341.9,905.3 L1343.8,905.8 L1345.7,906.4 L1347.6,906.9 L1349.6,907.5 L1351.5,908.1 L1353.4,908.7 L1355.3,909.2 L1357.3,909.8 L1359.2,910.4 L1361.1,911.0 L1363.0,911.6 L1365.0,912.2 L1366.9,912.9 L1368.8,913.5 L1370.7,914.1 L1372.7,914.8 L1374.6,915.4 L1376.5,916.1 L1378.4,916.7 L1380.3,917.4 L1382.3,918.0 L1384.2,918.7 L1386.1,919.4 L1388.0,920.1 L1390.0,920.8 L1391.9,921.5 L1393.8,922.2 L1395.7,922.9 L1397.7,923.6 L1399.6,924.4 L1401.5,925.1 L1403.4,925.9 L1405.4,926.6 L1407.3,927.4 L1409.2,928.1 L1411.1,928.9 L1413.1,929.7 L1415.0,930.5 L1416.9,931.3 L1418.8,932.1 L1420.7,932.9 L1422.7,933.7 L1424.6,934.6 L1426.5,935.4 L1428.4,936.2 L1430.4,937.1 L1432.3,938.0 L1434.2,938.8 L1436.1,939.7 L1438.1,940.6 L1440.0,941.5 L1441.9,942.4 L1443.8,943.3 L1445.8,944.2 L1447.7,945.2 L1449.6,946.1 L1451.5,947.0 L1453.5,948.0 L1455.4,949.0 L1457.3,949.9 L1459.2,950.9 L1461.1,951.9 L1463.1,952.9 L1465.0,953.9 L1466.9,955.0 L1468.8,956.0 L1470.8,957.0 L1472.7,958.1 L1474.6,959.1 L1476.5,960.2 L1478.5,961.3 L1480.4,962.3 L1482.3,963.4 L1484.2,964.5 L1486.2,965.6 L1488.1,966.8 L1490.0,967.9 L1491.9,969.0 L1493.9,970.2 L1495.8,971.3 L1497.7,972.5 L1499.6,973.6 L1501.5,974.8 L1503.5,976.0 L1505.4,977.2 L1507.3,978.4 L1509.2,979.6 L1511.2,980.8 L1513.1,982.0 L1515.0,983.2 L1516.9,984.5 L1518.9,985.7 L1520.8,986.9 L1522.7,988.2 L1524.6,989.4 L1526.6,990.7 L1528.5,992.0 L1530.4,993.3 L1532.3,994.5 L1534.3,995.8 L1536.2,997.1 L1538.1,998.4 L1540.0,999.7 L1541.9,1001.0 L1543.9,1002.4 L1545.8,1003.7 L1547.7,1005.0 L1549.6,1006.3 L1551.6,1007.7 L1553.5,1009.0 L1555.4,1010.4 L1557.3,1011.7 L1559.3,1013.1 L1561.2,1014.4 L1563.1,1015.8 L1565.0,1017.2 L1567.0,1018.6 L1568.9,1019.9 L1570.8,1021.3 L1572.7,1022.7 L1574.7,1024.1 L1576.6,1025.5 L1578.5,1026.9 L1580.4,1028.3 L1582.3,1029.7 L1584.3,1031.1 L1586.2,1032.5 L1588.1,1034.0 L1590.0,1035.4 L1592.0,1036.8 L1593.9,1038.2 L1595.8,1039.7 L1597.7,1041.1 L1599.7,1042.5 L1601.6,1044.0 L1603.5,1045.4 L1605.4,1046.8 L1607.4,1048.3 L1609.3,1049.7 L1611.2,1051.2 L1613.1,1052.6 L1615.1,1054.1 L1617.0,1055.5 L1618.9,1057.0 L1620.8,1058.5 L1622.7,1059.9 L1624.7,1061.4 L1626.6,1062.8 L1628.5,1064.3 L1630.4,1065.8 L1632.4,1067.2 L1634.3,1068.7 L1636.2,1070.2 L1638.1,1071.6 L1640.1,1073.1 L1642.0,1074.6 L1643.9,1076.1 L1645.8,1077.5 L1647.8,1079.0 L1649.7,1080.5 L1651.6,1081.9 L1653.5,1083.4 L1655.5,1084.9 L1657.4,1086.4 L1659.3,1087.8 L1661.2,1089.3 L1663.1,1090.8 L1665.1,1092.3 L1667.0,1093.7 L1668.9,1095.2 L1670.8,1096.7 L1672.8,1098.2 L1674.7,1099.6 L1676.6,1101.1 L1678.5,1102.6 L1680.5,1104.1 L1682.4,1105.5 L1684.3,1107.0 L1686.2,1108.5 L1688.2,1110.0 L1690.1,1111.4 L1692.0,1112.9 L1693.9,1114.4 L1695.9,1115.9 L1697.8,1117.3 L1699.7,1118.8 L1701.6,1120.2 L1703.5,1121.6 L1705.5,1123.1 L1707.4,1124.5 L1709.3,1125.8 L1711.2,1127.2 L1713.2,1128.5 L1715.1,1129.8 L1717.0,1131.1 L1718.9,1132.3 L1720.9,1133.5 L1722.8,1134.7 L1724.7,1135.8 L1726.6,1136.9 L1728.6,1138.0 L1730.5,1139.0 L1732.4,1139.9 L1734.3,1140.8 L1736.3,1141.7 L1738.2,1142.5 L1740.1,1143.2 L1742.0,1143.9 L1743.9,1144.5 L1745.9,1145.1 L1747.8,1145.6 L1749.7,1145.9 L1751.6,1146.2 L1753.6,1146.4 L1755.5,1146.4 L1757.4,1146.3 L1759.3,1146.1 L1761.3,1145.8 L1763.2,1145.3 L1765.1,1144.7 L1767.0,1143.9 L1769.0,1143.0 L1770.9,1141.9 L1772.8,1140.7 L1774.7,1139.4 L1776.7,1138.0 L1778.6,1136.4 L1780.5,1134.7 L1782.4,1133.0 L1784.3,1131.1 L1786.3,1129.1 L1788.2,1127.0 L1790.1,1124.9 L1792.0,1122.6 L1794.0,1120.3 L1795.9,1117.9 L1797.8,1115.4 L1799.7,1112.8 L1801.7,1110.2 L1803.6,1107.5 L1805.5,1104.8 L1807.4,1102.0 L1809.4,1099.2 L1811.3,1096.3 L1813.2,1093.5 L1815.1,1090.6 L1817.1,1087.8 L1819.0,1085.1 L1820.9,1082.4 L1822.8,1079.9 L1824.7,1077.4 L1826.7,1075.2 L1828.6,1073.0 L1830.5,1071.1 L1832.4,1069.3 L1834.4,1067.8 L1836.3,1066.4 L1838.2,1065.3 L1840.1,1064.5 L1842.1,1063.9 L1844.0,1063.5 L1845.9,1063.4 L1847.8,1063.6 L1849.8,1064.1 L1851.7,1064.9 L1853.6,1066.1 L1855.5,1067.5 L1857.5,1069.1 L1859.4,1071.0 L1861.3,1073.1 L1863.2,1075.3 L1865.1,1077.8 L1867.1,1080.3 L1869.0,1082.9 L1870.9,1085.7 L1872.8,1088.4 L1874.8,1091.2 L1876.7,1094.0 L1878.6,1096.8 L1880.5,1099.5 L1882.5,1102.3 L1884.4,1105.0 L1886.3,1107.7 L1888.2,1110.4 L1890.2,1113.0 L1892.1,1115.6 L1894.0,1118.2 L1895.9,1120.7 L1897.9,1123.1 L1899.8,1125.4 L1901.7,1127.7 L1903.6,1129.8 L1905.5,1131.9 L1907.5,1133.9 L1909.4,1135.7 L1911.3,1137.5 L1913.2,1139.1 L1915.2,1140.5 L1917.1,1141.8 L1919.0,1142.9 L1920.9,1143.9 L1922.9,1144.7 L1924.8,1145.4 L1926.7,1146.0 L1928.6,1146.4 L1930.6,1146.7 L1932.5,1146.9 L1934.4,1147.0 L1936.3,1147.0 L1938.3,1147.0 L1940.2,1146.9 L1942.1,1146.7 L1944.0,1146.4 L1945.9,1146.1 L1947.9,1145.7 L1949.8,1145.3 L1951.7,1144.8 L1953.6,1144.3 L1955.6,1143.7 L1957.5,1143.0 L1959.4,1142.3 L1961.3,1141.6 L1963.3,1140.7 L1965.2,1139.9 L1967.1,1138.9 L1969.0,1137.9 L1971.0,1136.9 L1972.9,1135.7 L1974.8,1134.5 L1976.7,1133.1 L1978.7,1131.7 L1980.6,1130.2 L1982.5,1128.6" fill="none" stroke="#000" stroke-width="11.8" stroke-linejoin="round" stroke-linecap="butt"/>
<path d="M219.9,1991.4 L219.9,1991.4 L219.9,1991.3 L220.0,1991.1 L220.0,1990.8 L220.1,1990.5 L220.2,1990.1 L220.3,1989.6 L220.4,1989.0 L220.5,1988.4 L220.7,1987.7 L220.9,1986.9 L221.1,1986.0 L221.3,1985.1 L221.5,1984.1 L221.7,1983.0 L222.0,1981.8 L222.2,1980.6 L222.5,1979.3 L222.8,1977.9 L223.1,1976.5 L223.4,1975.0 L223.8,1973.4 L224.1,1971.7 L224.5,1970.0 L224.9,1968.2 L225.3,1966.3 L225.7,1964.4 L226.2,1962.3 L226.6,1960.3 L227.1,1958.1 L227.6,1955.9 L228.1,1953.7 L228.6,1951.4 L229.1,1949.0 L229.7,1946.5 L230.2,1944.1 L230.8,1941.5 L231.4,1938.9 L232.0,1936.3 L232.7,1933.6 L233.3,1930.9 L234.0,1928.1 L234.6,1925.3 L235.3,1922.5 L236.0,1919.6 L236.7,1916.7 L237.5,1913.8 L238.2,1910.8 L239.0,1907.8 L239.8,1904.8 L240.6,1901.8 L241.4,1898.8 L242.2,1895.8 L243.1,1892.8 L243.9,1889.8 L244.8,1886.7 L245.7,1883.7 L246.6,1880.7 L247.5,1877.7 L248.4,1874.7 L249.4,1871.7 L250.3,1868.8 L251.3,1865.8 L252.3,1862.9 L253.3,1860.0 L254.3,1857.2 L255.4,1854.3 L256.4,1851.5 L257.5,1848.8 L258.6,1846.0 L259.6,1843.3 L260.8,1840.7 L261.9,1838.0 L263.0,1835.4 L264.2,1832.9 L265.3,1830.3 L266.5,1827.9 L267.7,1825.4 L268.9,1823.0 L270.1,1820.6 L271.4,1818.3 L272.6,1816.0 L273.9,1813.8 L275.2,1811.6 L276.5,1809.4 L277.8,1807.3 L279.1,1805.2 L280.4,1803.2 L281.8,1801.2 L283.1,1799.2 L284.5,1797.3 L285.9,1795.4 L287.3,1793.5 L288.7,1791.7 L290.1,1789.9 L291.6,1788.2 L293.0,1786.5 L294.5,1784.8 L296.0,1783.2 L297.5,1781.5 L299.0,1780.0 L300.5,1778.4 L302.0,1776.9 L303.6,1775.4 L305.1,1774.0 L306.7,1772.5 L308.3,1771.1 L309.9,1769.8 L311.5,1768.4 L313.1,1767.1 L314.7,1765.8 L316.4,1764.6 L318.0,1763.3 L319.7,1762.1 L321.4,1760.9 L323.1,1759.8 L324.8,1758.6 L326.5,1757.5 L328.2,1756.4 L330.0,1755.3 L331.7,1754.2 L333.5,1753.2 L335.3,1752.2 L337.0,1751.2 L338.8,1750.2 L340.6,1749.2 L342.5,1748.3 L344.3,1747.4 L346.1,1746.5 L348.0,1745.6 L349.9,1744.7 L351.7,1743.8 L353.6,1743.0 L355.5,1742.1 L357.4,1741.3 L359.4,1740.5 L361.3,1739.7 L363.2,1738.9 L365.2,1738.2 L367.1,1737.4 L369.1,1736.7 L371.1,1735.9 L373.1,1735.2 L375.1,1734.5 L377.1,1733.8 L379.1,1733.1 L381.1,1732.5 L383.2,1731.8 L385.2,1731.2 L387.3,1730.5 L389.3,1729.9 L391.4,1729.3 L393.5,1728.7 L395.6,1728.0 L397.7,1727.5 L399.8,1726.9 L401.9,1726.3 L404.1,1725.7 L406.2,1725.1 L408.4,1724.6 L410.5,1724.0 L412.7,1723.5 L414.9,1723.0 L417.1,1722.4 L419.2,1721.9 L421.4,1721.4 L423.6,1720.9 L425.9,1720.4 L428.1,1719.9 L430.3,1719.4 L432.6,1718.9 L434.8,1718.5 L437.1,1718.0 L439.3,1717.5 L441.6,1717.1 L443.9,1716.6 L446.1,1716.2 L448.4,1715.7 L450.7,1715.3 L453.0,1714.8 L455.3,1714.4 L457.7,1714.0 L460.0,1713.6 L462.3,1713.1 L464.6,1712.7 L467.0,1712.3 L469.3,1711.9 L471.7,1711.5 L474.1,1711.1 L476.4,1710.7 L478.8,1710.3 L481.2,1709.9 L483.6,1709.6 L486.0,1709.2 L488.3,1708.8 L490.7,1708.4 L493.2,1708.0 L495.6,1707.7 L498.0,1707.3 L500.4,1707.0 L502.8,1706.6 L505.3,1706.2 L507.7,1705.9 L510.1,1705.5 L512.6,1705.2 L515.0,1704.8 L517.5,1704.5 L519.9,1704.1 L522.4,1703.8 L524.9,1703.5 L527.3,1703.1 L529.8,1702.8 L532.3,1702.5 L534.8,1702.1 L537.3,1701.8 L539.8,1701.5 L542.3,1701.1 L544.7,1700.8 L547.2,1700.5 L549.7,1700.2 L552.3,1699.8 L554.8,1699.5 L557.3,1699.2 L559.8,1698.9 L562.3,1698.6 L564.8,1698.3 L567.3,1698.0 L569.9,1697.6 L572.4,1697.3 L574.9,1697.0 L577.4,1696.7 L580.0,1696.4 L582.5,1696.1 L585.0,1695.8 L587.6,1695.5 L590.1,1695.2 L592.6,1694.9 L595.2,1694.6 L597.7,1694.3 L600.3,1694.0 L602.8,1693.7 L605.4,1693.4 L607.9,1693.1 L610.4,1692.8 L613.0,1692.5 L615.5,1692.2 L618.1,1691.9 L620.6,1691.6 L623.2,1691.3 L625.7,1690.9 L628.3,1690.6 L630.8,1690.3 L633.4,1690.0 L635.9,1689.7 L638.5,1689.4 L641.0,1689.1 L643.5,1688.8 L646.1,1688.5 L648.6,1688.2 L651.2,1687.8 L653.7,1687.5 L656.3,1687.2 L658.8,1686.9 L661.3,1686.5 L663.9,1686.2 L666.4,1685.9 L668.9,1685.5 L671.5,1685.2 L674.0,1684.9 L676.5,1684.5 L679.0,1684.2 L681.6,1683.8 L684.1,1683.5 L686.6,1683.1 L689.1,1682.8 L691.6,1682.4 L694.1,1682.1 L696.6,1681.7 L699.2,1681.3 L701.7,1681.0 L704.2,1680.6 L706.6,1680.2 L709.1,1679.9 L711.6,1679.5 L714.1,1679.1 L716.6,1678.7 L719.1,1678.4 L721.6,1678.0 L724.0,1677.6 L726.5,1677.2 L729.0,1676.8 L731.4,1676.4 L733.9,1676.1 L736.3,1675.7 L738.8,1675.3 L741.2,1674.9 L743.6,1674.5 L746.1,1674.1 L748.5,1673.7 L750.9,1673.3 L753.3,1672.9 L755.7,1672.5 L758.2,1672.0 L760.6,1671.6 L762.9,1671.2 L765.3,1670.8 L767.7,1670.4 L770.1,1670.0 L772.5,1669.5 L774.8,1669.1 L777.2,1668.7 L779.6,1668.3 L781.9,1667.8 L784.3,1667.4 L786.6,1666.9 L788.9,1666.5 L791.2,1666.1 L793.6,1665.6 L795.9,1665.2 L798.2,1664.7 L800.5,1664.2 L802.8,1663.8 L805.0,1663.3 L807.3,1662.9 L809.6,1662.4 L811.8,1661.9 L814.1,1661.4 L816.3,1660.9 L818.6,1660.5 L820.8,1660.0 L823.0,1659.5 L825.3,1659.0 L827.5,1658.5 L829.7,1657.9 L831.8,1657.4 L834.0,1656.9 L836.2,1656.4 L838.4,1655.8 L840.5,1655.3 L842.7,1654.8 L844.8,1654.2 L847.0,1653.6 L849.1,1653.1 L851.2,1652.5 L853.3,1651.9 L855.4,1651.3 L857.5,1650.7 L859.6,1650.1 L861.6,1649.5 L863.7,1648.9 L865.7,1648.3 L867.8,1647.6 L869.8,1647.0 L871.8,1646.3 L873.8,1645.6 L875.8,1645.0 L877.8,1644.3 L879.8,1643.6 L881.8,1642.8 L883.7,1642.1 L885.7,1641.4 L887.6,1640.6 L889.5,1639.9 L891.5,1639.1 L893.4,1638.3 L895.3,1637.5 L897.2,1636.7 L899.0,1635.8 L900.9,1635.0 L902.8,1634.1 L904.6,1633.3 L906.4,1632.4 L908.3,1631.4 L910.1,1630.5 L911.9,1629.6 L913.6,1628.6 L915.4,1627.6 L917.2,1626.6 L918.9,1625.6 L920.7,1624.5 L922.4,1623.4 L924.1,1622.4 L925.8,1621.2 L927.5,1620.1 L929.2,1618.9 L930.9,1617.8 L932.5,1616.6 L934.2,1615.3 L935.8,1614.1 L937.4,1612.8 L939.0,1611.5 L940.6,1610.1 L942.2,1608.8 L943.8,1607.4 L945.3,1605.9 L946.9,1604.5 L948.4,1603.0 L949.9,1601.5 L951.4,1599.9 L952.9,1598.3 L954.4,1596.7 L955.9,1595.1 L957.3,1593.4 L958.8,1591.6 L960.2,1589.9 L961.6,1588.1 L963.0,1586.3 L964.4,1584.4 L965.8,1582.5 L967.1,1580.5 L968.5,1578.5 L969.8,1576.5 L971.1,1574.5 L972.4,1572.4 L973.7,1570.2 L975.0,1568.0 L976.3,1565.8 L977.5,1563.5 L978.8,1561.2 L980.0,1558.9 L981.2,1556.5 L982.4,1554.1 L983.6,1551.6 L984.7,1549.1 L985.9,1546.5 L987.0,1543.9 L988.1,1541.3 L989.3,1538.7 L990.3,1536.0 L991.4,1533.2 L992.5,1530.5 L993.5,1527.7 L994.6,1524.9 L995.6,1522.0 L996.6,1519.1 L997.6,1516.2 L998.6,1513.3 L999.5,1510.3 L1000.5,1507.4 L1001.4,1504.4 L1002.3,1501.4 L1003.2,1498.4 L1004.1,1495.4 L1005.0,1492.4 L1005.8,1489.3 L1006.7,1486.3 L1007.5,1483.3 L1008.3,1480.3 L1009.1,1477.3 L1009.9,1474.3 L1010.7,1471.4 L1011.4,1468.4 L1012.2,1465.5 L1012.9,1462.6 L1013.6,1459.7 L1014.3,1456.9 L1014.9,1454.1 L1015.6,1451.3 L1016.2,1448.6 L1016.9,1445.9 L1017.5,1443.3 L1018.1,1440.7 L1018.7,1438.1 L1019.2,1435.6 L1019.8,1433.2 L1020.3,1430.8 L1020.8,1428.5 L1021.3,1426.3 L1021.8,1424.1 L1022.3,1421.9 L1022.7,1419.8 L1023.2,1417.8 L1023.6,1415.9 L1024.0,1414.0 L1024.4,1412.2 L1024.8,1410.5 L1025.1,1408.8 L1025.5,1407.2 L1025.8,1405.7 L1026.1,1404.3 L1026.4,1402.9 L1026.7,1401.6 L1026.9,1400.4 L1027.2,1399.2 L1027.4,1398.1 L1027.6,1397.1 L1027.8,1396.2 L1028.0,1395.3 L1028.2,1394.5 L1028.4,1393.8 L1028.5,1393.2 L1028.6,1392.6 L1028.7,1392.1 L1028.8,1391.7 L1028.9,1391.4 L1028.9,1391.1 L1029.0,1390.9 L1029.0,1390.8 L1029.0,1390.8" fill="none" stroke="#000" stroke-width="11.8" stroke-linejoin="round" stroke-linecap="butt"/>
<path d="M1270.3,1953.9 L1272.3,1953.8 L1274.3,1953.7 L1276.2,1953.5 L1278.2,1953.3 L1280.2,1953.0 L1282.2,1952.6 L1284.2,1952.1 L1286.2,1951.6 L1288.1,1951.0 L1290.1,1950.3 L1292.1,1949.5 L1294.1,1948.7 L1296.1,1947.8 L1298.1,1946.9 L1300.0,1945.9 L1302.0,1944.8 L1304.0,1943.6 L1306.0,1942.4 L1308.0,1941.1 L1310.0,1939.7 L1311.9,1938.3 L1313.9,1936.7 L1315.9,1935.2 L1317.9,1933.5 L1319.9,1931.8 L1321.9,1930.1 L1323.8,1928.2 L1325.8,1926.3 L1327.8,1924.4 L1329.8,1922.3 L1331.8,1920.3 L1333.7,1918.1 L1335.7,1915.9 L1337.7,1913.6 L1339.7,1911.3 L1341.7,1908.9 L1343.7,1906.5 L1345.6,1903.9 L1347.6,1901.4 L1349.6,1898.8 L1351.6,1896.1 L1353.6,1893.4 L1355.6,1890.6 L1357.5,1887.7 L1359.5,1884.8 L1361.5,1881.9 L1363.5,1878.9 L1365.5,1875.8 L1367.5,1872.7 L1369.4,1869.6 L1371.4,1866.4 L1373.4,1863.2 L1375.4,1859.9 L1377.4,1856.5 L1379.3,1853.2 L1381.3,1849.7 L1383.3,1846.3 L1385.3,1842.8 L1387.3,1839.2 L1389.3,1835.6 L1391.2,1832.0 L1393.2,1828.3 L1395.2,1824.6 L1397.2,1820.9 L1399.2,1817.1 L1401.2,1813.3 L1403.1,1809.5 L1405.1,1805.6 L1407.1,1801.7 L1409.1,1797.8 L1411.1,1793.9 L1413.1,1789.9 L1415.0,1785.9 L1417.0,1781.8 L1419.0,1777.8 L1421.0,1773.7 L1423.0,1769.6 L1425.0,1765.5 L1426.9,1761.3 L1428.9,1757.1 L1430.9,1753.0 L1432.9,1748.8 L1434.9,1744.6 L1436.8,1740.3 L1438.8,1736.1 L1440.8,1731.8 L1442.8,1727.6 L1444.8,1723.3 L1446.8,1719.0 L1448.7,1714.7 L1450.7,1710.4 L1452.7,1706.1 L1454.7,1701.8 L1456.7,1697.5 L1458.7,1693.1 L1460.6,1688.8 L1462.6,1684.5 L1464.6,1680.2 L1466.6,1675.9 L1468.6,1671.6 L1470.6,1667.2 L1472.5,1662.9 L1474.5,1658.6 L1476.5,1654.3 L1478.5,1650.1 L1480.5,1645.8 L1482.4,1641.5 L1484.4,1637.3 L1486.4,1633.0 L1488.4,1628.8 L1490.4,1624.6 L1492.4,1620.4 L1494.3,1616.2 L1496.3,1612.0 L1498.3,1607.9 L1500.3,1603.8 L1502.3,1599.7 L1504.3,1595.6 L1506.2,1591.5 L1508.2,1587.5 L1510.2,1583.4 L1512.2,1579.5 L1514.2,1575.5 L1516.2,1571.6 L1518.1,1567.6 L1520.1,1563.8 L1522.1,1559.9 L1524.1,1556.1 L1526.1,1552.3 L1528.1,1548.5 L1530.0,1544.8 L1532.0,1541.1 L1534.0,1537.5 L1536.0,1533.9 L1538.0,1530.3 L1539.9,1526.7 L1541.9,1523.2 L1543.9,1519.8 L1545.9,1516.3 L1547.9,1512.9 L1549.9,1509.6 L1551.8,1506.3 L1553.8,1503.0 L1555.8,1499.8 L1557.8,1496.6 L1559.8,1493.5 L1561.8,1490.4 L1563.7,1487.4 L1565.7,1484.4 L1567.7,1481.5 L1569.7,1478.6 L1571.7,1475.7 L1573.7,1472.9 L1575.6,1470.2 L1577.6,1467.5 L1579.6,1464.8 L1581.6,1462.3 L1583.6,1459.7 L1585.6,1457.2 L1587.5,1454.8 L1589.5,1452.4 L1591.5,1450.1 L1593.5,1447.8 L1595.5,1445.6 L1597.4,1443.5 L1599.4,1441.4 L1601.4,1439.3 L1603.4,1437.3 L1605.4,1435.4 L1607.4,1433.5 L1609.3,1431.7 L1611.3,1430.0 L1613.3,1428.3 L1615.3,1426.6 L1617.3,1425.1 L1619.3,1423.6 L1621.2,1422.1 L1623.2,1420.7 L1625.2,1419.4 L1627.2,1418.1 L1629.2,1416.9 L1631.2,1415.8 L1633.1,1414.7 L1635.1,1413.7 L1637.1,1412.7 L1639.1,1411.8 L1641.1,1411.0 L1643.0,1410.2 L1645.0,1409.5 L1647.0,1408.9 L1649.0,1408.3 L1651.0,1407.8 L1653.0,1407.3 L1654.9,1406.9 L1656.9,1406.6 L1658.9,1406.4 L1660.9,1406.2 L1662.9,1406.0 L1664.9,1406.0 L1666.8,1406.0 L1668.8,1406.0 L1670.8,1406.2 L1672.8,1406.4 L1674.8,1406.6 L1676.8,1406.9 L1678.7,1407.3 L1680.7,1407.8 L1682.7,1408.3 L1684.7,1408.9 L1686.7,1409.5 L1688.7,1410.2 L1690.6,1411.0 L1692.6,1411.8 L1694.6,1412.7 L1696.6,1413.7 L1698.6,1414.7 L1700.5,1415.8 L1702.5,1416.9 L1704.5,1418.1 L1706.5,1419.4 L1708.5,1420.7 L1710.5,1422.1 L1712.4,1423.6 L1714.4,1425.1 L1716.4,1426.6 L1718.4,1428.3 L1720.4,1430.0 L1722.4,1431.7 L1724.3,1433.5 L1726.3,1435.4 L1728.3,1437.3 L1730.3,1439.3 L1732.3,1441.4 L1734.3,1443.5 L1736.2,1445.6 L1738.2,1447.8 L1740.2,1450.1 L1742.2,1452.4 L1744.2,1454.8 L1746.1,1457.2 L1748.1,1459.7 L1750.1,1462.3 L1752.1,1464.8 L1754.1,1467.5 L1756.1,1470.2 L1758.0,1472.9 L1760.0,1475.7 L1762.0,1478.6 L1764.0,1481.5 L1766.0,1484.4 L1768.0,1487.4 L1769.9,1490.4 L1771.9,1493.5 L1773.9,1496.6 L1775.9,1499.8 L1777.9,1503.0 L1779.9,1506.3 L1781.8,1509.6 L1783.8,1512.9 L1785.8,1516.3 L1787.8,1519.8 L1789.8,1523.2 L1791.8,1526.7 L1793.7,1530.3 L1795.7,1533.9 L1797.7,1537.5 L1799.7,1541.1 L1801.7,1544.8 L1803.6,1548.5 L1805.6,1552.3 L1807.6,1556.1 L1809.6,1559.9 L1811.6,1563.8 L1813.6,1567.6 L1815.5,1571.6 L1817.5,1575.5 L1819.5,1579.5 L1821.5,1583.4 L1823.5,1587.5 L1825.5,1591.5 L1827.4,1595.6 L1829.4,1599.7 L1831.4,1603.8 L1833.4,1607.9 L1835.4,1612.0 L1837.4,1616.2 L1839.3,1620.4 L1841.3,1624.6 L1843.3,1628.8 L1845.3,1633.0 L1847.3,1637.3 L1849.3,1641.5 L1851.2,1645.8 L1853.2,1650.1 L1855.2,1654.3 L1857.2,1658.6 L1859.2,1662.9 L1861.1,1667.2 L1863.1,1671.6 L1865.1,1675.9 L1867.1,1680.2 L1869.1,1684.5 L1871.1,1688.8 L1873.0,1693.1 L1875.0,1697.5 L1877.0,1701.8 L1879.0,1706.1 L1881.0,1710.4 L1883.0,1714.7 L1884.9,1719.0 L1886.9,1723.3 L1888.9,1727.6 L1890.9,1731.8 L1892.9,1736.1 L1894.9,1740.3 L1896.8,1744.6 L1898.8,1748.8 L1900.8,1753.0 L1902.8,1757.1 L1904.8,1761.3 L1906.7,1765.5 L1908.7,1769.6 L1910.7,1773.7 L1912.7,1777.8 L1914.7,1781.8 L1916.7,1785.9 L1918.6,1789.9 L1920.6,1793.9 L1922.6,1797.8 L1924.6,1801.7 L1926.6,1805.6 L1928.6,1809.5 L1930.5,1813.3 L1932.5,1817.1 L1934.5,1820.9 L1936.5,1824.6 L1938.5,1828.3 L1940.5,1832.0 L1942.4,1835.6 L1944.4,1839.2 L1946.4,1842.8 L1948.4,1846.3 L1950.4,1849.7 L1952.4,1853.2 L1954.3,1856.5 L1956.3,1859.9 L1958.3,1863.2 L1960.3,1866.4 L1962.3,1869.6 L1964.2,1872.7 L1966.2,1875.8 L1968.2,1878.9 L1970.2,1881.9 L1972.2,1884.8 L1974.2,1887.7 L1976.1,1890.6 L1978.1,1893.4 L1980.1,1896.1 L1982.1,1898.8 L1984.1,1901.4 L1986.1,1903.9 L1988.0,1906.5 L1990.0,1908.9 L1992.0,1911.3 L1994.0,1913.6 L1996.0,1915.9 L1998.0,1918.1 L1999.9,1920.3 L2001.9,1922.3 L2003.9,1924.4 L2005.9,1926.3 L2007.9,1928.2 L2009.8,1930.1 L2011.8,1931.8 L2013.8,1933.5 L2015.8,1935.2 L2017.8,1936.7 L2019.8,1938.3 L2021.7,1939.7 L2023.7,1941.1 L2025.7,1942.4 L2027.7,1943.6 L2029.7,1944.8 L2031.7,1945.9 L2033.6,1946.9 L2035.6,1947.8 L2037.6,1948.7 L2039.6,1949.5 L2041.6,1950.3 L2043.6,1951.0 L2045.5,1951.6 L2047.5,1952.1 L2049.5,1952.6 L2051.5,1953.0 L2053.5,1953.3 L2055.5,1953.5 L2057.4,1953.7 L2059.4,1953.8 L2061.4,1953.9" fill="none" stroke="#000" stroke-width="11.8" stroke-linejoin="round" stroke-linecap="butt"/>
<line x1="1075" y1="174.5" x2="2073" y2="174.5" stroke="#000" stroke-width="5.4"/>
<line x1="466" y1="458.4" x2="2075" y2="458.4" stroke="#000" stroke-width="5.2"/>
<line x1="2020.4" y1="190" x2="2020.4" y2="444" stroke="#000" stroke-width="5"/>
<polygon points="2020.4,176.2 2029.8,200.8 2020.4,196.3 2011.0,200.8" fill="#000"/>
<polygon points="2020.4,457.5 2011.0,432.9 2020.4,437.4 2029.8,432.9" fill="#000"/>
<path d="M399.0,242.2 L409.1,250.5 L410.1,251.7 L411.0,253.1 L411.9,254.6 L412.8,256.2 L413.7,257.9 L414.5,259.8 L415.2,261.7 L415.9,263.6 L416.6,265.7 L417.2,267.9 L417.8,270.1 L418.3,272.4 L418.8,274.7 L419.2,277.1 L419.6,279.6 L419.9,282.1 L420.1,284.6 L420.3,287.1 L420.4,289.7 L420.5,292.3 L420.5,294.9 L420.4,297.4 L420.3,300.0 L420.2,302.6 L419.9,305.1 L419.7,307.6 L419.3,310.1 L418.9,312.5 L418.5,314.8 L418.0,317.1 L417.4,319.4 L416.8,321.6 L416.2,323.7 L415.5,325.7 L414.7,327.6 L413.9,329.5 L413.1,331.2 L412.2,332.8 L411.3,334.4 L410.4,335.8 L409.4,337.1 L408.4,338.3 L407.4,339.4 L406.4,340.3 L405.3,341.1 L404.2,341.8 L403.1,342.4 L402.0,342.8 L400.9,343.1 L399.8,343.3 L398.6,343.3 L397.5,343.2 L396.4,342.9 L395.3,342.6 L394.2,342.0 L393.1,341.4 L392.0,340.6 L390.9,339.7 L389.9,338.7 L388.9,337.5 L387.9,336.3 L387.0,334.9 L386.1,333.4 L385.2,331.8 L384.3,330.1 L383.5,328.2 L382.8,326.3 L382.1,324.4 L381.4,322.3 L380.8,320.1 L380.2,317.9 L379.7,315.6 L379.2,313.3 L378.8,310.9 L378.4,308.4 L378.1,305.9 L377.9,303.4 L377.7,300.9 L377.6,298.3 L377.5,295.7 L377.5,293.1 L377.6,290.6 L377.7,288.0 L377.8,285.4 L378.1,282.9 L378.3,280.4 L378.7,277.9 L379.1,275.5 L379.5,273.2 L380.0,270.9 L380.6,268.6 L381.2,266.4 L381.8,264.3 L382.5,262.3 L383.3,260.4 L384.1,258.5 L384.9,256.8 L385.8,255.2 L386.7,253.6 L387.6,252.2 L388.6,250.9 Z" fill="#cccccc" stroke="#000" stroke-width="6.8" stroke-linejoin="round"/>
<path d="M1131.0,277.0 L1122.8,287.1 L1121.5,288.1 L1120.1,289.0 L1118.6,289.9 L1117.0,290.8 L1115.3,291.7 L1113.5,292.5 L1111.6,293.2 L1109.6,293.9 L1107.6,294.6 L1105.4,295.2 L1103.2,295.8 L1100.9,296.3 L1098.6,296.8 L1096.2,297.2 L1093.8,297.6 L1091.3,297.9 L1088.8,298.1 L1086.2,298.3 L1083.7,298.4 L1081.1,298.5 L1078.5,298.5 L1076.0,298.4 L1073.4,298.3 L1070.9,298.2 L1068.4,297.9 L1065.9,297.7 L1063.4,297.3 L1061.0,296.9 L1058.6,296.5 L1056.3,296.0 L1054.1,295.4 L1051.9,294.8 L1049.9,294.2 L1047.8,293.5 L1045.9,292.7 L1044.1,291.9 L1042.3,291.1 L1040.7,290.2 L1039.2,289.3 L1037.8,288.4 L1036.5,287.4 L1035.3,286.4 L1034.2,285.4 L1033.3,284.4 L1032.4,283.3 L1031.8,282.2 L1031.2,281.1 L1030.8,280.0 L1030.5,278.9 L1030.3,277.8 L1030.3,276.6 L1030.4,275.5 L1030.7,274.4 L1031.0,273.3 L1031.6,272.2 L1032.2,271.1 L1033.0,270.0 L1033.9,268.9 L1034.9,267.9 L1036.0,266.9 L1037.3,265.9 L1038.7,265.0 L1040.2,264.1 L1041.8,263.2 L1043.5,262.3 L1045.3,261.5 L1047.2,260.8 L1049.2,260.1 L1051.2,259.4 L1053.4,258.8 L1055.6,258.2 L1057.9,257.7 L1060.2,257.2 L1062.6,256.8 L1065.0,256.4 L1067.5,256.1 L1070.0,255.9 L1072.6,255.7 L1075.1,255.6 L1077.7,255.5 L1080.3,255.5 L1082.8,255.6 L1085.4,255.7 L1087.9,255.8 L1090.4,256.1 L1092.9,256.3 L1095.4,256.7 L1097.8,257.1 L1100.2,257.5 L1102.5,258.0 L1104.7,258.6 L1106.9,259.2 L1108.9,259.8 L1111.0,260.5 L1112.9,261.3 L1114.7,262.1 L1116.5,262.9 L1118.1,263.8 L1119.6,264.7 L1121.0,265.6 L1122.3,266.6 Z" fill="#cccccc" stroke="#000" stroke-width="6.8" stroke-linejoin="round"/>
<path d="M1757.1,344.9 L1747.0,336.6 L1746.0,335.3 L1745.1,334.0 L1744.2,332.5 L1743.3,330.8 L1742.4,329.1 L1741.6,327.3 L1740.9,325.4 L1740.2,323.4 L1739.5,321.3 L1738.9,319.2 L1738.3,316.9 L1737.8,314.7 L1737.3,312.3 L1736.9,309.9 L1736.5,307.4 L1736.2,305.0 L1736.0,302.4 L1735.8,299.9 L1735.7,297.3 L1735.6,294.7 L1735.6,292.1 L1735.7,289.6 L1735.8,287.0 L1735.9,284.4 L1736.2,281.9 L1736.4,279.4 L1736.8,276.9 L1737.2,274.5 L1737.6,272.1 L1738.1,269.8 L1738.7,267.6 L1739.3,265.4 L1739.9,263.3 L1740.6,261.2 L1741.4,259.3 L1742.2,257.5 L1743.0,255.7 L1743.9,254.1 L1744.8,252.5 L1745.7,251.1 L1746.7,249.8 L1747.7,248.6 L1748.7,247.5 L1749.7,246.6 L1750.8,245.8 L1751.9,245.1 L1753.0,244.5 L1754.1,244.1 L1755.2,243.8 L1756.3,243.6 L1757.5,243.6 L1758.6,243.7 L1759.7,244.0 L1760.8,244.4 L1761.9,244.9 L1763.0,245.5 L1764.1,246.3 L1765.2,247.2 L1766.2,248.2 L1767.2,249.4 L1768.2,250.7 L1769.1,252.0 L1770.0,253.5 L1770.9,255.2 L1771.8,256.9 L1772.6,258.7 L1773.3,260.6 L1774.0,262.6 L1774.7,264.7 L1775.3,266.8 L1775.9,269.1 L1776.4,271.3 L1776.9,273.7 L1777.3,276.1 L1777.7,278.6 L1778.0,281.0 L1778.2,283.6 L1778.4,286.1 L1778.5,288.7 L1778.6,291.3 L1778.6,293.9 L1778.5,296.4 L1778.4,299.0 L1778.3,301.6 L1778.0,304.1 L1777.8,306.6 L1777.4,309.1 L1777.0,311.5 L1776.6,313.9 L1776.1,316.2 L1775.5,318.4 L1774.9,320.6 L1774.3,322.7 L1773.6,324.8 L1772.8,326.7 L1772.0,328.5 L1771.2,330.3 L1770.3,331.9 L1769.4,333.5 L1768.5,334.9 L1767.5,336.2 Z" fill="#cccccc" stroke="#000" stroke-width="6.8" stroke-linejoin="round"/>
<ellipse cx="399.2" cy="241.6" rx="6.2" ry="6.8" fill="#ff0000"/>
<ellipse cx="1131.1" cy="277.1" rx="6.2" ry="6.8" fill="#ff0000"/>
<ellipse cx="1757.1" cy="342.6" rx="6.2" ry="6.8" fill="#ff0000"/>
<circle cx="395" cy="370.2" r="12.9" fill="#ff0000"/>
<circle cx="1074.9" cy="173.4" r="12.9" fill="#ff0000"/>
<circle cx="1754.5" cy="365.6" r="12.9" fill="#ff0000"/>
<circle cx="354.5" cy="1067.2" r="12.9" fill="#ff0000"/>
<circle cx="1100.4" cy="870.2" r="12.9" fill="#ff0000"/>
<circle cx="1845.1" cy="1062.4" r="12.9" fill="#ff0000"/>
<line x1="354.4" y1="748.1" x2="354.4" y2="1067.4" stroke="#000" stroke-width="4.8"/>
<line x1="1844.9" y1="744.7" x2="1844.9" y2="1062.6" stroke="#000" stroke-width="4.4"/>
<line x1="365" y1="792.4" x2="1833" y2="792.4" stroke="#000" stroke-width="5.2"/>
<polygon points="349.7,792.4 374.7,783.1 370.2,792.4 374.7,801.6" fill="#000"/>
<polygon points="1847.7,792.4 1822.7,801.6 1827.2,792.4 1822.7,783.1" fill="#000"/>
<text transform="translate(251.6,550.2) scale(1,1.04)" text-anchor="middle" font-family='"Liberation Sans", Arial, sans-serif' font-size="50" fill="#262626">0</text>
<text transform="translate(443.4,550.2) scale(1,1.04)" text-anchor="middle" font-family='"Liberation Sans", Arial, sans-serif' font-size="50" fill="#262626">50</text>
<text transform="translate(635.3,550.2) scale(1,1.04)" text-anchor="middle" font-family='"Liberation Sans", Arial, sans-serif' font-size="50" fill="#262626">100</text>
<text transform="translate(827.1,550.2) scale(1,1.04)" text-anchor="middle" font-family='"Liberation Sans", Arial, sans-serif' font-size="50" fill="#262626">150</text>
<text transform="translate(1019.0,550.2) scale(1,1.04)" text-anchor="middle" font-family='"Liberation Sans", Arial, sans-serif' font-size="50" fill="#262626">200</text>
<text transform="translate(1210.8,550.2) scale(1,1.04)" text-anchor="middle" font-family='"Liberation Sans", Arial, sans-serif' font-size="50" fill="#262626">250</text>
<text transform="translate(1402.7,550.2) scale(1,1.04)" text-anchor="middle" font-family='"Liberation Sans", Arial, sans-serif' font-size="50" fill="#262626">300</text>
<text transform="translate(1594.5,550.2) scale(1,1.04)" text-anchor="middle" font-family='"Liberation Sans", Arial, sans-serif' font-size="50" fill="#262626">350</text>
<text transform="translate(1786.4,550.2) scale(1,1.04)" text-anchor="middle" font-family='"Liberation Sans", Arial, sans-serif' font-size="50" fill="#262626">400</text>
<text transform="translate(1978.2,550.2) scale(1,1.04)" text-anchor="middle" font-family='"Liberation Sans", Arial, sans-serif' font-size="50" fill="#262626">450</text>
<text transform="translate(231.6,197.4) scale(1,1.04)" text-anchor="end" font-family='"Liberation Sans", Arial, sans-serif' font-size="50" fill="#262626">12.6</text>
<text transform="translate(231.6,326.7) scale(1,1.04)" text-anchor="end" font-family='"Liberation Sans", Arial, sans-serif' font-size="50" fill="#262626">12.3</text>
<text transform="translate(231.6,456.0) scale(1,1.04)" text-anchor="end" font-family='"Liberation Sans", Arial, sans-serif' font-size="50" fill="#262626">12</text>
<text transform="translate(254.6,1247.0) scale(1,1.04)" text-anchor="middle" font-family='"Liberation Sans", Arial, sans-serif' font-size="50" fill="#262626">0</text>
<text transform="translate(599.9,1247.0) scale(1,1.04)" text-anchor="middle" font-family='"Liberation Sans", Arial, sans-serif' font-size="50" fill="#262626">0.03</text>
<text transform="translate(945.2,1247.0) scale(1,1.04)" text-anchor="middle" font-family='"Liberation Sans", Arial, sans-serif' font-size="50" fill="#262626">0.06</text>
<text transform="translate(1290.5,1247.0) scale(1,1.04)" text-anchor="middle" font-family='"Liberation Sans", Arial, sans-serif' font-size="50" fill="#262626">0.09</text>
<text transform="translate(1635.8,1247.0) scale(1,1.04)" text-anchor="middle" font-family='"Liberation Sans", Arial, sans-serif' font-size="50" fill="#262626">0.12</text>
<text transform="translate(1981.1,1247.0) scale(1,1.04)" text-anchor="middle" font-family='"Liberation Sans", Arial, sans-serif' font-size="50" fill="#262626">0.15</text>
<text transform="translate(234.6,893.9) scale(1,1.04)" text-anchor="end" font-family='"Liberation Sans", Arial, sans-serif' font-size="50" fill="#262626">12.6</text>
<text transform="translate(234.6,1023.2) scale(1,1.04)" text-anchor="end" font-family='"Liberation Sans", Arial, sans-serif' font-size="50" fill="#262626">12.3</text>
<text transform="translate(234.6,1152.5) scale(1,1.04)" text-anchor="end" font-family='"Liberation Sans", Arial, sans-serif' font-size="50" fill="#262626">12</text>
<text transform="translate(219.9,2063.4) scale(1,1.04)" text-anchor="middle" font-family='"Liberation Sans", Arial, sans-serif' font-size="50" fill="#262626">0</text>
<text transform="translate(422.2,2063.4) scale(1,1.04)" text-anchor="middle" font-family='"Liberation Sans", Arial, sans-serif' font-size="50" fill="#262626">0.25</text>
<text transform="translate(624.5,2063.4) scale(1,1.04)" text-anchor="middle" font-family='"Liberation Sans", Arial, sans-serif' font-size="50" fill="#262626">0.5</text>
<text transform="translate(826.7,2063.4) scale(1,1.04)" text-anchor="middle" font-family='"Liberation Sans", Arial, sans-serif' font-size="50" fill="#262626">0.75</text>
<text transform="translate(1029.0,2063.4) scale(1,1.04)" text-anchor="middle" font-family='"Liberation Sans", Arial, sans-serif' font-size="50" fill="#262626">1</text>
<text transform="translate(199.9,1412.2) scale(1,1.04)" text-anchor="end" font-family='"Liberation Sans", Arial, sans-serif' font-size="50" fill="#262626">180</text>
<text transform="translate(199.9,1562.4) scale(1,1.04)" text-anchor="end" font-family='"Liberation Sans", Arial, sans-serif' font-size="50" fill="#262626">135</text>
<text transform="translate(199.9,1712.5) scale(1,1.04)" text-anchor="end" font-family='"Liberation Sans", Arial, sans-serif' font-size="50" fill="#262626">90</text>
<text transform="translate(199.9,1862.7) scale(1,1.04)" text-anchor="end" font-family='"Liberation Sans", Arial, sans-serif' font-size="50" fill="#262626">45</text>
<text transform="translate(199.9,2012.8) scale(1,1.04)" text-anchor="end" font-family='"Liberation Sans", Arial, sans-serif' font-size="50" fill="#262626">0</text>
<text transform="translate(1270.3,2063.4) scale(1,1.04)" text-anchor="middle" font-family='"Liberation Sans", Arial, sans-serif' font-size="50" fill="#262626">0</text>
<text transform="translate(1468.1,2063.4) scale(1,1.04)" text-anchor="middle" font-family='"Liberation Sans", Arial, sans-serif' font-size="50" fill="#262626">45</text>
<text transform="translate(1665.8,2063.4) scale(1,1.04)" text-anchor="middle" font-family='"Liberation Sans", Arial, sans-serif' font-size="50" fill="#262626">90</text>
<text transform="translate(1863.6,2063.4) scale(1,1.04)" text-anchor="middle" font-family='"Liberation Sans", Arial, sans-serif' font-size="50" fill="#262626">135</text>
<text transform="translate(2061.4,2063.4) scale(1,1.04)" text-anchor="middle" font-family='"Liberation Sans", Arial, sans-serif' font-size="50" fill="#262626">180</text>
<text transform="translate(1250.3,1412.2) scale(1,1.04)" text-anchor="end" font-family='"Liberation Sans", Arial, sans-serif' font-size="50" fill="#262626">0</text>
<text transform="translate(1250.3,1562.4) scale(1,1.04)" text-anchor="end" font-family='"Liberation Sans", Arial, sans-serif' font-size="50" fill="#262626">-40</text>
<text transform="translate(1250.3,1712.5) scale(1,1.04)" text-anchor="end" font-family='"Liberation Sans", Arial, sans-serif' font-size="50" fill="#262626">-80</text>
<text transform="translate(1250.3,1862.7) scale(1,1.04)" text-anchor="end" font-family='"Liberation Sans", Arial, sans-serif' font-size="50" fill="#262626">-120</text>
<text transform="translate(1250.3,2012.8) scale(1,1.04)" text-anchor="end" font-family='"Liberation Sans", Arial, sans-serif' font-size="50" fill="#262626">-160</text>
<text transform="translate(197.4,98.4) scale(1,1)" font-family='"Liberation Serif", "Times New Roman", serif' font-size="110" fill="#000" stroke="#000" stroke-width="0.5">(a)</text>
<text transform="translate(197.4,792.2) scale(1,1)" font-family='"Liberation Serif", "Times New Roman", serif' font-size="110" fill="#000" stroke="#000" stroke-width="0.5">(b)</text>
<text transform="translate(229.6,1478.6) scale(1,1)" font-family='"Liberation Serif", "Times New Roman", serif' font-size="110" fill="#000" stroke="#000" stroke-width="0.5">(c)</text>
<text transform="translate(1284.1,1481.5) scale(1,1)" font-family='"Liberation Serif", "Times New Roman", serif' font-size="110" fill="#000" stroke="#000" stroke-width="0.5">(d)</text>
<text transform="translate(2039.7,348.9) skewX(-11) scale(0.86,1)" font-family='"Liberation Serif", "Times New Roman", serif' font-style="italic" font-size="110.8" fill="#000" stroke="#000" stroke-width="1">A</text>
<text font-family='"Liberation Serif", "Times New Roman", serif' fill="#000" xml:space="preserve"><tspan x="1056.2" y="757.0" font-size="109.6" font-style="italic">T</tspan><tspan x="1115.0" y="779.5" font-size="74.8" font-style="italic">0</tspan></text>
<text font-family='"Liberation Serif", "Times New Roman", serif' fill="#262626" xml:space="preserve"><tspan x="1002.2" y="625.3" font-size="74.1" font-style="italic">x</tspan><tspan x="1039.4" y="634.0" font-size="48.4" font-style="italic">p</tspan> <tspan x="1078.9" y="625.0" font-size="78.7">(</tspan><tspan x="1107.9" y="624.8" font-size="75.2" font-style="italic">μ</tspan><tspan x="1148.0" y="624.9" font-size="71.1">m</tspan><tspan x="1203.4" y="625.0" font-size="78.7">)</tspan></text>
<text font-family='"Liberation Serif", "Times New Roman", serif' fill="#262626" xml:space="preserve"><tspan x="1057.8" y="1321.5" font-size="80.5" font-style="italic">t</tspan> <tspan x="1096.8" y="1322.1" font-size="79.4">(</tspan><tspan x="1121.3" y="1322.4" font-size="75.2">s</tspan><tspan x="1149.3" y="1322.1" font-size="79.4">)</tspan></text>
<text transform="rotate(-90)" font-family='"Liberation Serif", "Times New Roman", serif' fill="#262626" xml:space="preserve"><tspan x="-412.2" y="94.9" font-size="64.2" font-style="italic">y</tspan><tspan x="-383.8" y="106.0" font-size="47.6" font-style="italic">p</tspan> <tspan x="-343.2" y="96.7" font-size="78.7">(</tspan><tspan x="-314.9" y="96.7" font-size="75.9" font-style="italic">μ</tspan><tspan x="-274.9" y="96.7" font-size="71.1">m</tspan><tspan x="-218.9" y="96.7" font-size="78.7">)</tspan></text>
<text transform="rotate(-90)" font-family='"Liberation Serif", "Times New Roman", serif' fill="#262626" xml:space="preserve"><tspan x="-1109.0" y="97.9" font-size="64.2" font-style="italic">y</tspan><tspan x="-1080.6" y="109.0" font-size="47.6" font-style="italic">p</tspan> <tspan x="-1040.0" y="99.7" font-size="78.7">(</tspan><tspan x="-1011.7" y="99.7" font-size="75.9" font-style="italic">μ</tspan><tspan x="-971.7" y="99.7" font-size="71.1">m</tspan><tspan x="-915.7" y="99.7" font-size="78.7">)</tspan></text>
<text transform="rotate(-90)" font-family='"Liberation Serif", "Times New Roman", serif' fill="#262626" xml:space="preserve"><tspan x="-1754.1" y="76.9" font-size="70.4" font-style="italic">ϕ</tspan><tspan x="-1714.2" y="78.3" font-size="78.5">(</tspan><tspan x="-1689.8" y="53.0" font-size="71.7">o</tspan><tspan x="-1651.8" y="78.3" font-size="78.5">)</tspan></text>
<text font-family='"Liberation Serif", "Times New Roman", serif' fill="#262626" xml:space="preserve"><tspan x="1602.8" y="2136.9" font-size="70.3" font-style="italic">ϕ</tspan><tspan x="1642.2" y="2138.3" font-size="78.0">(</tspan><tspan x="1666.7" y="2113.3" font-size="72.8">o</tspan><tspan x="1705.2" y="2138.3" font-size="78.0">)</tspan></text>
<text font-family='"Liberation Serif", "Times New Roman", serif' fill="#262626" xml:space="preserve"><tspan x="558.6" y="2138.4" font-size="80.3" font-style="italic">t</tspan><tspan x="588.4" y="2154.1" font-size="106.1">/</tspan><tspan x="620.0" y="2138.1" font-size="75.3" font-style="italic">T</tspan><tspan x="659.9" y="2148.8" font-size="51.0">0</tspan></text>
<text transform="rotate(-90)" font-family='"Liberation Serif", "Times New Roman", serif' fill="#262626" xml:space="preserve"><tspan x="-1838.6" y="1110.6" font-size="69.5" font-style="italic">ω</tspan><tspan x="-1791.8" y="1122.7" font-size="53.8" font-style="italic">h</tspan> <tspan x="-1759.6" y="1110.4" font-size="78.0">(</tspan><tspan x="-1733.8" y="1111.9" font-size="74.6">r</tspan><tspan x="-1707.5" y="1111.2" font-size="72.9">a</tspan><tspan x="-1674.4" y="1112.6" font-size="77.7">d</tspan><tspan x="-1631.7" y="1125.9" font-size="105.7">/</tspan><tspan x="-1600.9" y="1111.3" font-size="74.2">s</tspan><tspan x="-1573.2" y="1110.4" font-size="78.0">)</tspan></text>
</svg>
</body></html>
